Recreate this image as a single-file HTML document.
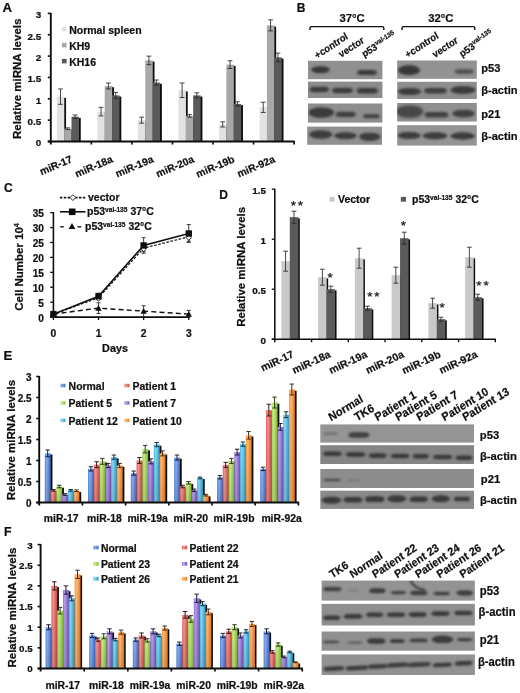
<!DOCTYPE html>
<html><head><meta charset="utf-8"><title>Figure</title>
<style>html,body{margin:0;padding:0;background:#fff;}svg{display:block;}text{font-family:"Liberation Sans",sans-serif;stroke:#111;stroke-width:0.22px;}</style></head><body>
<svg width="520" height="693" viewBox="0 0 520 693">
<defs>
<linearGradient id="g_blue" x1="0" y1="0" x2="1" y2="0"><stop offset="0" stop-color="#5a8ae2"/><stop offset="0.32" stop-color="#8bb0f2"/><stop offset="1" stop-color="#3a69c8"/></linearGradient>
<linearGradient id="g_red" x1="0" y1="0" x2="1" y2="0"><stop offset="0" stop-color="#e5625f"/><stop offset="0.32" stop-color="#f39792"/><stop offset="1" stop-color="#cc4441"/></linearGradient>
<linearGradient id="g_green" x1="0" y1="0" x2="1" y2="0"><stop offset="0" stop-color="#a3d852"/><stop offset="0.32" stop-color="#c8ee88"/><stop offset="1" stop-color="#84ba36"/></linearGradient>
<linearGradient id="g_purple" x1="0" y1="0" x2="1" y2="0"><stop offset="0" stop-color="#9676d6"/><stop offset="0.32" stop-color="#b9a2ec"/><stop offset="1" stop-color="#7252b8"/></linearGradient>
<linearGradient id="g_cyan" x1="0" y1="0" x2="1" y2="0"><stop offset="0" stop-color="#4abae7"/><stop offset="0.32" stop-color="#8adaf6"/><stop offset="1" stop-color="#2899ca"/></linearGradient>
<linearGradient id="g_orange" x1="0" y1="0" x2="1" y2="0"><stop offset="0" stop-color="#ff983e"/><stop offset="0.32" stop-color="#ffbc78"/><stop offset="1" stop-color="#ee7a1a"/></linearGradient>
<linearGradient id="vshade" x1="0" y1="0" x2="0" y2="1"><stop offset="0" stop-color="#000" stop-opacity="0"/><stop offset="1" stop-color="#000" stop-opacity="0.13"/></linearGradient>
<filter id="b1" x="-20%" y="-80%" width="140%" height="260%"><feGaussianBlur stdDeviation="1.0"/></filter>
<filter id="b2" x="-20%" y="-80%" width="140%" height="260%"><feGaussianBlur stdDeviation="1.4"/></filter>
<filter id="b0" x="-5%" y="-5%" width="110%" height="110%"><feGaussianBlur stdDeviation="0.45"/></filter>
<filter id="soft" x="0" y="0" width="520" height="693" filterUnits="userSpaceOnUse"><feGaussianBlur stdDeviation="0.38"/></filter>
</defs>
<rect x="0" y="0" width="520" height="693" fill="#ffffff"/>
<g filter="url(#soft)">
<rect x="0" y="0" width="520" height="693" fill="#ffffff"/>
<text x="2.6" y="11.7" font-size="13.2" text-anchor="start" font-weight="bold" fill="#111">A</text>
<text x="296.8" y="11.6" font-size="12" text-anchor="start" font-weight="bold" fill="#111">B</text>
<text x="4" y="192" font-size="12" text-anchor="start" font-weight="bold" fill="#111">C</text>
<text x="219.2" y="198.8" font-size="12" text-anchor="start" font-weight="bold" fill="#111">D</text>
<text x="3.4" y="359.9" font-size="13.2" text-anchor="start" font-weight="bold" fill="#111">E</text>
<text x="4" y="535.6" font-size="12.4" text-anchor="start" font-weight="bold" fill="#111">F</text>
<rect x="58.7" y="97.86" width="7.35" height="43.64" fill="#0a0a0a"/>
<rect x="66.05" y="129.89" width="7.35" height="11.61" fill="#0a0a0a"/>
<rect x="73.4" y="117.93" width="7.35" height="23.57" fill="#0a0a0a"/>
<rect x="99.25" y="112.81" width="7.35" height="28.69" fill="#0a0a0a"/>
<rect x="106.6" y="87.19" width="7.35" height="54.31" fill="#0a0a0a"/>
<rect x="113.95" y="96.58" width="7.35" height="44.92" fill="#0a0a0a"/>
<rect x="139.8" y="121.35" width="7.35" height="20.15" fill="#0a0a0a"/>
<rect x="147.15" y="61.57" width="7.35" height="79.93" fill="#0a0a0a"/>
<rect x="154.5" y="83.77" width="7.35" height="57.73" fill="#0a0a0a"/>
<rect x="180.35" y="91.46" width="7.35" height="50.04" fill="#0a0a0a"/>
<rect x="187.7" y="117.08" width="7.35" height="24.42" fill="#0a0a0a"/>
<rect x="195.05" y="96.58" width="7.35" height="44.92" fill="#0a0a0a"/>
<rect x="220.9" y="125.62" width="7.35" height="15.88" fill="#0a0a0a"/>
<rect x="228.25" y="65.84" width="7.35" height="75.66" fill="#0a0a0a"/>
<rect x="235.6" y="105.12" width="7.35" height="36.38" fill="#0a0a0a"/>
<rect x="261.45" y="108.54" width="7.35" height="32.96" fill="#0a0a0a"/>
<rect x="268.8" y="26.56" width="7.35" height="114.94" fill="#0a0a0a"/>
<rect x="276.15" y="58.58" width="7.35" height="82.92" fill="#0a0a0a"/>
<rect x="56.8" y="96.66" width="7.5" height="44.84" fill="#e2e2e2"/>
<rect x="64.15" y="128.69" width="7.5" height="12.81" fill="#a8a8a8"/>
<rect x="71.5" y="116.73" width="7.5" height="24.77" fill="#5a5a5a"/>
<rect x="97.35" y="111.61" width="7.5" height="29.89" fill="#e2e2e2"/>
<rect x="104.7" y="85.99" width="7.5" height="55.51" fill="#a8a8a8"/>
<rect x="112.05" y="95.38" width="7.5" height="46.12" fill="#5a5a5a"/>
<rect x="137.9" y="120.15" width="7.5" height="21.35" fill="#e2e2e2"/>
<rect x="145.25" y="60.37" width="7.5" height="81.13" fill="#a8a8a8"/>
<rect x="152.6" y="82.57" width="7.5" height="58.93" fill="#5a5a5a"/>
<rect x="178.45" y="90.26" width="7.5" height="51.24" fill="#e2e2e2"/>
<rect x="185.8" y="115.88" width="7.5" height="25.62" fill="#a8a8a8"/>
<rect x="193.15" y="95.38" width="7.5" height="46.12" fill="#5a5a5a"/>
<rect x="219" y="124.42" width="7.5" height="17.08" fill="#e2e2e2"/>
<rect x="226.35" y="64.64" width="7.5" height="76.86" fill="#a8a8a8"/>
<rect x="233.7" y="103.92" width="7.5" height="37.58" fill="#5a5a5a"/>
<rect x="259.55" y="107.34" width="7.5" height="34.16" fill="#e2e2e2"/>
<rect x="266.9" y="25.36" width="7.5" height="116.14" fill="#a8a8a8"/>
<rect x="274.25" y="57.38" width="7.5" height="84.12" fill="#5a5a5a"/>
<line x1="60.47" y1="88.98" x2="60.47" y2="104.35" stroke="#262626" stroke-width="0.85"/>
<line x1="58.07" y1="88.98" x2="62.87" y2="88.98" stroke="#262626" stroke-width="0.85"/>
<line x1="58.07" y1="104.35" x2="62.87" y2="104.35" stroke="#262626" stroke-width="0.85"/>
<line x1="67.82" y1="127.84" x2="67.82" y2="129.54" stroke="#262626" stroke-width="0.85"/>
<line x1="65.42" y1="127.84" x2="70.22" y2="127.84" stroke="#262626" stroke-width="0.85"/>
<line x1="65.42" y1="129.54" x2="70.22" y2="129.54" stroke="#262626" stroke-width="0.85"/>
<line x1="75.17" y1="115.03" x2="75.17" y2="118.44" stroke="#262626" stroke-width="0.85"/>
<line x1="72.77" y1="115.03" x2="77.58" y2="115.03" stroke="#262626" stroke-width="0.85"/>
<line x1="72.77" y1="118.44" x2="77.58" y2="118.44" stroke="#262626" stroke-width="0.85"/>
<line x1="101.02" y1="107.34" x2="101.02" y2="115.88" stroke="#262626" stroke-width="0.85"/>
<line x1="98.62" y1="107.34" x2="103.42" y2="107.34" stroke="#262626" stroke-width="0.85"/>
<line x1="98.62" y1="115.88" x2="103.42" y2="115.88" stroke="#262626" stroke-width="0.85"/>
<line x1="108.37" y1="83" x2="108.37" y2="88.98" stroke="#262626" stroke-width="0.85"/>
<line x1="105.97" y1="83" x2="110.77" y2="83" stroke="#262626" stroke-width="0.85"/>
<line x1="105.97" y1="88.98" x2="110.77" y2="88.98" stroke="#262626" stroke-width="0.85"/>
<line x1="115.72" y1="92.39" x2="115.72" y2="98.37" stroke="#262626" stroke-width="0.85"/>
<line x1="113.32" y1="92.39" x2="118.12" y2="92.39" stroke="#262626" stroke-width="0.85"/>
<line x1="113.32" y1="98.37" x2="118.12" y2="98.37" stroke="#262626" stroke-width="0.85"/>
<line x1="141.57" y1="117.16" x2="141.57" y2="123.14" stroke="#262626" stroke-width="0.85"/>
<line x1="139.17" y1="117.16" x2="143.97" y2="117.16" stroke="#262626" stroke-width="0.85"/>
<line x1="139.17" y1="123.14" x2="143.97" y2="123.14" stroke="#262626" stroke-width="0.85"/>
<line x1="148.92" y1="56.1" x2="148.92" y2="64.64" stroke="#262626" stroke-width="0.85"/>
<line x1="146.52" y1="56.1" x2="151.32" y2="56.1" stroke="#262626" stroke-width="0.85"/>
<line x1="146.52" y1="64.64" x2="151.32" y2="64.64" stroke="#262626" stroke-width="0.85"/>
<line x1="156.27" y1="80.01" x2="156.27" y2="85.14" stroke="#262626" stroke-width="0.85"/>
<line x1="153.87" y1="80.01" x2="158.67" y2="80.01" stroke="#262626" stroke-width="0.85"/>
<line x1="153.87" y1="85.14" x2="158.67" y2="85.14" stroke="#262626" stroke-width="0.85"/>
<line x1="182.12" y1="83" x2="182.12" y2="97.52" stroke="#262626" stroke-width="0.85"/>
<line x1="179.72" y1="83" x2="184.53" y2="83" stroke="#262626" stroke-width="0.85"/>
<line x1="179.72" y1="97.52" x2="184.53" y2="97.52" stroke="#262626" stroke-width="0.85"/>
<line x1="189.47" y1="114.6" x2="189.47" y2="117.16" stroke="#262626" stroke-width="0.85"/>
<line x1="187.07" y1="114.6" x2="191.88" y2="114.6" stroke="#262626" stroke-width="0.85"/>
<line x1="187.07" y1="117.16" x2="191.88" y2="117.16" stroke="#262626" stroke-width="0.85"/>
<line x1="196.82" y1="92.82" x2="196.82" y2="97.95" stroke="#262626" stroke-width="0.85"/>
<line x1="194.42" y1="92.82" x2="199.22" y2="92.82" stroke="#262626" stroke-width="0.85"/>
<line x1="194.42" y1="97.95" x2="199.22" y2="97.95" stroke="#262626" stroke-width="0.85"/>
<line x1="222.68" y1="121.86" x2="222.68" y2="126.98" stroke="#262626" stroke-width="0.85"/>
<line x1="220.28" y1="121.86" x2="225.08" y2="121.86" stroke="#262626" stroke-width="0.85"/>
<line x1="220.28" y1="126.98" x2="225.08" y2="126.98" stroke="#262626" stroke-width="0.85"/>
<line x1="230.03" y1="60.8" x2="230.03" y2="68.48" stroke="#262626" stroke-width="0.85"/>
<line x1="227.62" y1="60.8" x2="232.43" y2="60.8" stroke="#262626" stroke-width="0.85"/>
<line x1="227.62" y1="68.48" x2="232.43" y2="68.48" stroke="#262626" stroke-width="0.85"/>
<line x1="237.38" y1="101.79" x2="237.38" y2="106.06" stroke="#262626" stroke-width="0.85"/>
<line x1="234.97" y1="101.79" x2="239.78" y2="101.79" stroke="#262626" stroke-width="0.85"/>
<line x1="234.97" y1="106.06" x2="239.78" y2="106.06" stroke="#262626" stroke-width="0.85"/>
<line x1="263.23" y1="102.22" x2="263.23" y2="112.46" stroke="#262626" stroke-width="0.85"/>
<line x1="260.83" y1="102.22" x2="265.62" y2="102.22" stroke="#262626" stroke-width="0.85"/>
<line x1="260.83" y1="112.46" x2="265.62" y2="112.46" stroke="#262626" stroke-width="0.85"/>
<line x1="270.58" y1="19.8" x2="270.58" y2="30.91" stroke="#262626" stroke-width="0.85"/>
<line x1="268.18" y1="19.8" x2="272.98" y2="19.8" stroke="#262626" stroke-width="0.85"/>
<line x1="268.18" y1="30.91" x2="272.98" y2="30.91" stroke="#262626" stroke-width="0.85"/>
<line x1="277.93" y1="53.11" x2="277.93" y2="61.65" stroke="#262626" stroke-width="0.85"/>
<line x1="275.53" y1="53.11" x2="280.32" y2="53.11" stroke="#262626" stroke-width="0.85"/>
<line x1="275.53" y1="61.65" x2="280.32" y2="61.65" stroke="#262626" stroke-width="0.85"/>
<line x1="50.8" y1="12.9" x2="50.8" y2="144.5" stroke="#111" stroke-width="1.9"/>
<line x1="47.8" y1="141.5" x2="294.7" y2="141.5" stroke="#111" stroke-width="1.9"/>
<line x1="91.35" y1="141.2" x2="91.35" y2="144.5" stroke="#111" stroke-width="1.71"/>
<line x1="131.9" y1="141.2" x2="131.9" y2="144.5" stroke="#111" stroke-width="1.71"/>
<line x1="172.45" y1="141.2" x2="172.45" y2="144.5" stroke="#111" stroke-width="1.71"/>
<line x1="213" y1="141.2" x2="213" y2="144.5" stroke="#111" stroke-width="1.71"/>
<line x1="253.55" y1="141.2" x2="253.55" y2="144.5" stroke="#111" stroke-width="1.71"/>
<line x1="294.1" y1="141.2" x2="294.1" y2="144.5" stroke="#111" stroke-width="1.71"/>
<line x1="47.8" y1="141.5" x2="50.8" y2="141.5" stroke="#111" stroke-width="1.61"/>
<text x="41.2" y="146.46" font-size="9.9" text-anchor="end" font-weight="bold" fill="#111">0</text>
<line x1="47.8" y1="120.15" x2="50.8" y2="120.15" stroke="#111" stroke-width="1.61"/>
<text x="41.2" y="125.11" font-size="9.9" text-anchor="end" font-weight="bold" fill="#111">0.5</text>
<line x1="47.8" y1="98.8" x2="50.8" y2="98.8" stroke="#111" stroke-width="1.61"/>
<text x="41.2" y="103.76" font-size="9.9" text-anchor="end" font-weight="bold" fill="#111">1</text>
<line x1="47.8" y1="77.45" x2="50.8" y2="77.45" stroke="#111" stroke-width="1.61"/>
<text x="41.2" y="82.41" font-size="9.9" text-anchor="end" font-weight="bold" fill="#111">1.5</text>
<line x1="47.8" y1="56.1" x2="50.8" y2="56.1" stroke="#111" stroke-width="1.61"/>
<text x="41.2" y="61.06" font-size="9.9" text-anchor="end" font-weight="bold" fill="#111">2</text>
<line x1="47.8" y1="34.75" x2="50.8" y2="34.75" stroke="#111" stroke-width="1.61"/>
<text x="41.2" y="39.71" font-size="9.9" text-anchor="end" font-weight="bold" fill="#111">2.5</text>
<line x1="47.8" y1="13.4" x2="50.8" y2="13.4" stroke="#111" stroke-width="1.61"/>
<text x="41.2" y="18.36" font-size="9.9" text-anchor="end" font-weight="bold" fill="#111">3</text>
<text x="73.07" y="161.8" font-size="10.3" text-anchor="end" font-weight="bold" fill="#111" transform="rotate(-23 73.07 161.8)">miR-17</text>
<text x="113.62" y="161.8" font-size="10.3" text-anchor="end" font-weight="bold" fill="#111" transform="rotate(-23 113.62 161.8)">miR-18a</text>
<text x="154.18" y="161.8" font-size="10.3" text-anchor="end" font-weight="bold" fill="#111" transform="rotate(-23 154.18 161.8)">miR-19a</text>
<text x="194.72" y="161.8" font-size="10.3" text-anchor="end" font-weight="bold" fill="#111" transform="rotate(-23 194.72 161.8)">miR-20a</text>
<text x="235.27" y="161.8" font-size="10.3" text-anchor="end" font-weight="bold" fill="#111" transform="rotate(-23 235.27 161.8)">miR-19b</text>
<text x="275.82" y="161.8" font-size="10.3" text-anchor="end" font-weight="bold" fill="#111" transform="rotate(-23 275.82 161.8)">miR-92a</text>
<text x="21.4" y="78.8" font-size="11.5" text-anchor="middle" font-weight="bold" fill="#111" transform="rotate(-90 21.4 78.8)">Relative miRNA levels</text>
<rect x="61.9" y="26.8" width="4.7" height="4.6" fill="#e2e2e2"/>
<text x="69.2" y="33.6" font-size="10.5" text-anchor="start" font-weight="bold" fill="#111">Normal spleen</text>
<rect x="61.9" y="42.8" width="4.7" height="4.6" fill="#a8a8a8"/>
<text x="69.2" y="49.6" font-size="10.5" text-anchor="start" font-weight="bold" fill="#111">KH9</text>
<rect x="61.9" y="58.8" width="4.7" height="4.6" fill="#5a5a5a"/>
<text x="69.2" y="65.6" font-size="10.5" text-anchor="start" font-weight="bold" fill="#111">KH16</text>
<rect x="283" y="262.4" width="8.4" height="76.8" fill="#0a0a0a"/>
<rect x="291.4" y="218.4" width="8.4" height="120.8" fill="#0a0a0a"/>
<rect x="319.75" y="278.4" width="8.4" height="60.8" fill="#0a0a0a"/>
<rect x="328.15" y="290.4" width="8.4" height="48.8" fill="#0a0a0a"/>
<rect x="356.5" y="259.4" width="8.4" height="79.8" fill="#0a0a0a"/>
<rect x="364.9" y="309.4" width="8.4" height="29.8" fill="#0a0a0a"/>
<rect x="393.25" y="276.4" width="8.4" height="62.8" fill="#0a0a0a"/>
<rect x="401.65" y="239.4" width="8.4" height="99.8" fill="#0a0a0a"/>
<rect x="430" y="304.4" width="8.4" height="34.8" fill="#0a0a0a"/>
<rect x="438.4" y="320.4" width="8.4" height="18.8" fill="#0a0a0a"/>
<rect x="466.75" y="258.4" width="8.4" height="80.8" fill="#0a0a0a"/>
<rect x="475.15" y="298.4" width="8.4" height="40.8" fill="#0a0a0a"/>
<rect x="281.4" y="261.2" width="8.55" height="78" fill="#c9c9c9"/>
<rect x="289.8" y="217.2" width="8.55" height="122" fill="#5a5a5a"/>
<rect x="318.15" y="277.2" width="8.55" height="62" fill="#c9c9c9"/>
<rect x="326.55" y="289.2" width="8.55" height="50" fill="#5a5a5a"/>
<rect x="354.9" y="258.2" width="8.55" height="81" fill="#c9c9c9"/>
<rect x="363.3" y="308.2" width="8.55" height="31" fill="#5a5a5a"/>
<rect x="391.65" y="275.2" width="8.55" height="64" fill="#c9c9c9"/>
<rect x="400.05" y="238.2" width="8.55" height="101" fill="#5a5a5a"/>
<rect x="428.4" y="303.2" width="8.55" height="36" fill="#c9c9c9"/>
<rect x="436.8" y="319.2" width="8.55" height="20" fill="#5a5a5a"/>
<rect x="465.15" y="257.2" width="8.55" height="82" fill="#c9c9c9"/>
<rect x="473.55" y="297.2" width="8.55" height="42" fill="#5a5a5a"/>
<line x1="285.6" y1="251.2" x2="285.6" y2="271.2" stroke="#262626" stroke-width="0.85"/>
<line x1="283.2" y1="251.2" x2="288" y2="251.2" stroke="#262626" stroke-width="0.85"/>
<line x1="283.2" y1="271.2" x2="288" y2="271.2" stroke="#262626" stroke-width="0.85"/>
<line x1="294" y1="211.2" x2="294" y2="223.2" stroke="#262626" stroke-width="0.85"/>
<line x1="291.6" y1="211.2" x2="296.4" y2="211.2" stroke="#262626" stroke-width="0.85"/>
<line x1="291.6" y1="223.2" x2="296.4" y2="223.2" stroke="#262626" stroke-width="0.85"/>
<line x1="322.35" y1="269.2" x2="322.35" y2="285.2" stroke="#262626" stroke-width="0.85"/>
<line x1="319.95" y1="269.2" x2="324.75" y2="269.2" stroke="#262626" stroke-width="0.85"/>
<line x1="319.95" y1="285.2" x2="324.75" y2="285.2" stroke="#262626" stroke-width="0.85"/>
<line x1="330.75" y1="286.2" x2="330.75" y2="292.2" stroke="#262626" stroke-width="0.85"/>
<line x1="328.35" y1="286.2" x2="333.15" y2="286.2" stroke="#262626" stroke-width="0.85"/>
<line x1="328.35" y1="292.2" x2="333.15" y2="292.2" stroke="#262626" stroke-width="0.85"/>
<line x1="359.1" y1="248.2" x2="359.1" y2="268.2" stroke="#262626" stroke-width="0.85"/>
<line x1="356.7" y1="248.2" x2="361.5" y2="248.2" stroke="#262626" stroke-width="0.85"/>
<line x1="356.7" y1="268.2" x2="361.5" y2="268.2" stroke="#262626" stroke-width="0.85"/>
<line x1="367.5" y1="306.2" x2="367.5" y2="310.2" stroke="#262626" stroke-width="0.85"/>
<line x1="365.1" y1="306.2" x2="369.9" y2="306.2" stroke="#262626" stroke-width="0.85"/>
<line x1="365.1" y1="310.2" x2="369.9" y2="310.2" stroke="#262626" stroke-width="0.85"/>
<line x1="395.85" y1="267.2" x2="395.85" y2="283.2" stroke="#262626" stroke-width="0.85"/>
<line x1="393.45" y1="267.2" x2="398.25" y2="267.2" stroke="#262626" stroke-width="0.85"/>
<line x1="393.45" y1="283.2" x2="398.25" y2="283.2" stroke="#262626" stroke-width="0.85"/>
<line x1="404.25" y1="232.2" x2="404.25" y2="244.2" stroke="#262626" stroke-width="0.85"/>
<line x1="401.85" y1="232.2" x2="406.65" y2="232.2" stroke="#262626" stroke-width="0.85"/>
<line x1="401.85" y1="244.2" x2="406.65" y2="244.2" stroke="#262626" stroke-width="0.85"/>
<line x1="432.6" y1="298.2" x2="432.6" y2="308.2" stroke="#262626" stroke-width="0.85"/>
<line x1="430.2" y1="298.2" x2="435" y2="298.2" stroke="#262626" stroke-width="0.85"/>
<line x1="430.2" y1="308.2" x2="435" y2="308.2" stroke="#262626" stroke-width="0.85"/>
<line x1="441" y1="317.2" x2="441" y2="321.2" stroke="#262626" stroke-width="0.85"/>
<line x1="438.6" y1="317.2" x2="443.4" y2="317.2" stroke="#262626" stroke-width="0.85"/>
<line x1="438.6" y1="321.2" x2="443.4" y2="321.2" stroke="#262626" stroke-width="0.85"/>
<line x1="469.35" y1="247.2" x2="469.35" y2="267.2" stroke="#262626" stroke-width="0.85"/>
<line x1="466.95" y1="247.2" x2="471.75" y2="247.2" stroke="#262626" stroke-width="0.85"/>
<line x1="466.95" y1="267.2" x2="471.75" y2="267.2" stroke="#262626" stroke-width="0.85"/>
<line x1="477.75" y1="294.2" x2="477.75" y2="300.2" stroke="#262626" stroke-width="0.85"/>
<line x1="475.35" y1="294.2" x2="480.15" y2="294.2" stroke="#262626" stroke-width="0.85"/>
<line x1="475.35" y1="300.2" x2="480.15" y2="300.2" stroke="#262626" stroke-width="0.85"/>
<line x1="274.8" y1="188.7" x2="274.8" y2="342.2" stroke="#111" stroke-width="1.55"/>
<line x1="271.8" y1="339.2" x2="495.9" y2="339.2" stroke="#111" stroke-width="1.55"/>
<line x1="311.55" y1="338.9" x2="311.55" y2="342.2" stroke="#111" stroke-width="1.4"/>
<line x1="348.3" y1="338.9" x2="348.3" y2="342.2" stroke="#111" stroke-width="1.4"/>
<line x1="385.05" y1="338.9" x2="385.05" y2="342.2" stroke="#111" stroke-width="1.4"/>
<line x1="421.8" y1="338.9" x2="421.8" y2="342.2" stroke="#111" stroke-width="1.4"/>
<line x1="458.55" y1="338.9" x2="458.55" y2="342.2" stroke="#111" stroke-width="1.4"/>
<line x1="495.3" y1="338.9" x2="495.3" y2="342.2" stroke="#111" stroke-width="1.4"/>
<line x1="271.8" y1="339.2" x2="274.8" y2="339.2" stroke="#111" stroke-width="1.32"/>
<text x="266" y="344.26" font-size="9.9" text-anchor="end" font-weight="bold" fill="#111">0</text>
<line x1="271.8" y1="289.2" x2="274.8" y2="289.2" stroke="#111" stroke-width="1.32"/>
<text x="266" y="294.26" font-size="9.9" text-anchor="end" font-weight="bold" fill="#111">0.5</text>
<line x1="271.8" y1="239.2" x2="274.8" y2="239.2" stroke="#111" stroke-width="1.32"/>
<text x="266" y="244.26" font-size="9.9" text-anchor="end" font-weight="bold" fill="#111">1</text>
<line x1="271.8" y1="189.2" x2="274.8" y2="189.2" stroke="#111" stroke-width="1.32"/>
<text x="266" y="194.26" font-size="9.9" text-anchor="end" font-weight="bold" fill="#111">1.5</text>
<text x="294.48" y="356.8" font-size="10.5" text-anchor="end" font-weight="bold" fill="#111" transform="rotate(-25 294.48 356.8)">miR-17</text>
<text x="331.23" y="356.8" font-size="10.5" text-anchor="end" font-weight="bold" fill="#111" transform="rotate(-25 331.23 356.8)">miR-18a</text>
<text x="367.98" y="356.8" font-size="10.5" text-anchor="end" font-weight="bold" fill="#111" transform="rotate(-25 367.98 356.8)">miR-19a</text>
<text x="404.73" y="356.8" font-size="10.5" text-anchor="end" font-weight="bold" fill="#111" transform="rotate(-25 404.73 356.8)">miR-20a</text>
<text x="441.48" y="356.8" font-size="10.5" text-anchor="end" font-weight="bold" fill="#111" transform="rotate(-25 441.48 356.8)">miR-19b</text>
<text x="478.23" y="356.8" font-size="10.5" text-anchor="end" font-weight="bold" fill="#111" transform="rotate(-25 478.23 356.8)">miR-92a</text>
<text x="244.8" y="266.8" font-size="11.45" text-anchor="middle" font-weight="bold" fill="#111" transform="rotate(-90 244.8 266.8)">Relative miRNA levels</text>
<rect x="329.6" y="196.9" width="5" height="4.8" fill="#c9c9c9"/>
<text x="338" y="203" font-size="10.5" text-anchor="start" font-weight="bold" fill="#111">Vector</text>
<rect x="400.8" y="196.9" width="5.2" height="4.8" fill="#5a5a5a"/>
<text x="412.0" y="203.2" font-size="10.5" font-weight="bold" fill="#111">p53<tspan font-size="6.6" dy="-3.6">val-135</tspan><tspan dy="3.6" font-size="10.5"> 32°C</tspan></text>
<text x="297.7" y="210.1" font-size="13.5" text-anchor="middle" font-weight="normal" fill="#111" letter-spacing="1.8" stroke-width="0.5">**</text>
<text x="331" y="281.6" font-size="13.5" text-anchor="middle" font-weight="normal" fill="#111" letter-spacing="1.8" stroke-width="0.5">*</text>
<text x="374.2" y="300.9" font-size="13.5" text-anchor="middle" font-weight="normal" fill="#111" letter-spacing="1.8" stroke-width="0.5">**</text>
<text x="404.2" y="229.6" font-size="13.5" text-anchor="middle" font-weight="normal" fill="#111" letter-spacing="1.8" stroke-width="0.5">*</text>
<text x="443" y="311.8" font-size="13.5" text-anchor="middle" font-weight="normal" fill="#111" letter-spacing="1.8" stroke-width="0.5">*</text>
<text x="483.4" y="290.3" font-size="13.5" text-anchor="middle" font-weight="normal" fill="#111" letter-spacing="1.8" stroke-width="0.5">**</text>
<line x1="53.4" y1="212.13" x2="53.4" y2="317.9" stroke="#111" stroke-width="1.6"/>
<line x1="50.4" y1="317.1" x2="189.56" y2="317.1" stroke="#111" stroke-width="1.6"/>
<line x1="50.2" y1="317.1" x2="53.4" y2="317.1" stroke="#111" stroke-width="1.3"/>
<text x="43.9" y="321.8" font-size="10.1" text-anchor="end" font-weight="bold" fill="#111">0</text>
<line x1="50.2" y1="302.18" x2="53.4" y2="302.18" stroke="#111" stroke-width="1.3"/>
<text x="43.9" y="306.88" font-size="10.1" text-anchor="end" font-weight="bold" fill="#111">5</text>
<line x1="50.2" y1="287.25" x2="53.4" y2="287.25" stroke="#111" stroke-width="1.3"/>
<text x="43.9" y="291.95" font-size="10.1" text-anchor="end" font-weight="bold" fill="#111">10</text>
<line x1="50.2" y1="272.33" x2="53.4" y2="272.33" stroke="#111" stroke-width="1.3"/>
<text x="43.9" y="277.03" font-size="10.1" text-anchor="end" font-weight="bold" fill="#111">15</text>
<line x1="50.2" y1="257.4" x2="53.4" y2="257.4" stroke="#111" stroke-width="1.3"/>
<text x="43.9" y="262.1" font-size="10.1" text-anchor="end" font-weight="bold" fill="#111">20</text>
<line x1="50.2" y1="242.48" x2="53.4" y2="242.48" stroke="#111" stroke-width="1.3"/>
<text x="43.9" y="247.18" font-size="10.1" text-anchor="end" font-weight="bold" fill="#111">25</text>
<line x1="50.2" y1="227.55" x2="53.4" y2="227.55" stroke="#111" stroke-width="1.3"/>
<text x="43.9" y="232.25" font-size="10.1" text-anchor="end" font-weight="bold" fill="#111">30</text>
<line x1="50.2" y1="212.63" x2="53.4" y2="212.63" stroke="#111" stroke-width="1.3"/>
<text x="43.9" y="217.33" font-size="10.1" text-anchor="end" font-weight="bold" fill="#111">35</text>
<line x1="53.4" y1="317.1" x2="53.4" y2="320.1" stroke="#111" stroke-width="1.3"/>
<text x="53.4" y="337" font-size="10.3" text-anchor="middle" font-weight="bold" fill="#111">0</text>
<line x1="98.52" y1="317.1" x2="98.52" y2="320.1" stroke="#111" stroke-width="1.3"/>
<text x="98.52" y="337" font-size="10.3" text-anchor="middle" font-weight="bold" fill="#111">1</text>
<line x1="143.64" y1="317.1" x2="143.64" y2="320.1" stroke="#111" stroke-width="1.3"/>
<text x="143.64" y="337" font-size="10.3" text-anchor="middle" font-weight="bold" fill="#111">2</text>
<line x1="188.76" y1="317.1" x2="188.76" y2="320.1" stroke="#111" stroke-width="1.3"/>
<text x="188.76" y="337" font-size="10.3" text-anchor="middle" font-weight="bold" fill="#111">3</text>
<text x="115" y="352.3" font-size="10.8" text-anchor="middle" font-weight="bold" fill="#111">Days</text>
<text x="23.2" y="267" font-size="11.5" font-weight="bold" fill="#111" text-anchor="middle" transform="rotate(-90 23.2 267)">Cell Number 10<tspan font-size="6.8" dy="-4">4</tspan></text>
<line x1="53.4" y1="312.62" x2="53.4" y2="315.61" stroke="#333" stroke-width="0.95"/>
<line x1="51.4" y1="312.62" x2="55.4" y2="312.62" stroke="#333" stroke-width="0.95"/>
<line x1="51.4" y1="315.61" x2="55.4" y2="315.61" stroke="#333" stroke-width="0.95"/>
<line x1="53.4" y1="312.62" x2="53.4" y2="315.61" stroke="#333" stroke-width="0.95"/>
<line x1="51.4" y1="312.62" x2="55.4" y2="312.62" stroke="#333" stroke-width="0.95"/>
<line x1="51.4" y1="315.61" x2="55.4" y2="315.61" stroke="#333" stroke-width="0.95"/>
<line x1="53.4" y1="312.62" x2="53.4" y2="315.61" stroke="#333" stroke-width="0.95"/>
<line x1="51.4" y1="312.62" x2="55.4" y2="312.62" stroke="#333" stroke-width="0.95"/>
<line x1="51.4" y1="315.61" x2="55.4" y2="315.61" stroke="#333" stroke-width="0.95"/>
<line x1="98.52" y1="293.22" x2="98.52" y2="299.19" stroke="#333" stroke-width="0.95"/>
<line x1="96.52" y1="293.22" x2="100.52" y2="293.22" stroke="#333" stroke-width="0.95"/>
<line x1="96.52" y1="299.19" x2="100.52" y2="299.19" stroke="#333" stroke-width="0.95"/>
<line x1="98.52" y1="302.77" x2="98.52" y2="313.52" stroke="#333" stroke-width="0.95"/>
<line x1="96.52" y1="302.77" x2="100.52" y2="302.77" stroke="#333" stroke-width="0.95"/>
<line x1="96.52" y1="313.52" x2="100.52" y2="313.52" stroke="#333" stroke-width="0.95"/>
<line x1="98.52" y1="295.01" x2="98.52" y2="299.79" stroke="#333" stroke-width="0.95"/>
<line x1="96.52" y1="295.01" x2="100.52" y2="295.01" stroke="#333" stroke-width="0.95"/>
<line x1="96.52" y1="299.79" x2="100.52" y2="299.79" stroke="#333" stroke-width="0.95"/>
<line x1="143.64" y1="237.7" x2="143.64" y2="253.22" stroke="#333" stroke-width="0.95"/>
<line x1="141.64" y1="237.7" x2="145.64" y2="237.7" stroke="#333" stroke-width="0.95"/>
<line x1="141.64" y1="253.22" x2="145.64" y2="253.22" stroke="#333" stroke-width="0.95"/>
<line x1="143.64" y1="305.76" x2="143.64" y2="316.5" stroke="#333" stroke-width="0.95"/>
<line x1="141.64" y1="305.76" x2="145.64" y2="305.76" stroke="#333" stroke-width="0.95"/>
<line x1="141.64" y1="316.5" x2="145.64" y2="316.5" stroke="#333" stroke-width="0.95"/>
<line x1="143.64" y1="243.97" x2="143.64" y2="251.73" stroke="#333" stroke-width="0.95"/>
<line x1="141.64" y1="243.97" x2="145.64" y2="243.97" stroke="#333" stroke-width="0.95"/>
<line x1="141.64" y1="251.73" x2="145.64" y2="251.73" stroke="#333" stroke-width="0.95"/>
<line x1="188.76" y1="224.57" x2="188.76" y2="242.48" stroke="#333" stroke-width="0.95"/>
<line x1="186.76" y1="224.57" x2="190.76" y2="224.57" stroke="#333" stroke-width="0.95"/>
<line x1="186.76" y1="242.48" x2="190.76" y2="242.48" stroke="#333" stroke-width="0.95"/>
<line x1="188.76" y1="310.53" x2="188.76" y2="317.1" stroke="#333" stroke-width="0.95"/>
<line x1="186.76" y1="310.53" x2="190.76" y2="310.53" stroke="#333" stroke-width="0.95"/>
<line x1="186.76" y1="317.1" x2="190.76" y2="317.1" stroke="#333" stroke-width="0.95"/>
<line x1="188.76" y1="231.73" x2="188.76" y2="241.28" stroke="#333" stroke-width="0.95"/>
<line x1="186.76" y1="231.73" x2="190.76" y2="231.73" stroke="#333" stroke-width="0.95"/>
<line x1="186.76" y1="241.28" x2="190.76" y2="241.28" stroke="#333" stroke-width="0.95"/>
<polyline fill="none" stroke="#111" stroke-width="1.4" stroke-dasharray="5 3.2" points="53.4,314.12 98.52,308.15 143.64,311.13 188.76,314.12"/>
<polyline fill="none" stroke="#111" stroke-width="1.2" stroke-dasharray="2.6 1.6" points="53.4,314.42 98.52,297.7 143.64,248.15 188.76,236.81"/>
<polyline fill="none" stroke="#111" stroke-width="1.6" points="53.4,314.12 98.52,296.21 143.64,245.46 188.76,233.52"/>
<path d="M50.8 315.31 L53.4 312.71 L56 315.31 L53.4 317.92Z" fill="#fff" stroke="#111" stroke-width="0.9"/>
<path d="M95.92 298.6 L98.52 296 L101.12 298.6 L98.52 301.2Z" fill="#fff" stroke="#111" stroke-width="0.9"/>
<path d="M141.04 249.05 L143.64 246.45 L146.24 249.05 L143.64 251.65Z" fill="#fff" stroke="#111" stroke-width="0.9"/>
<path d="M186.16 237.71 L188.76 235.11 L191.36 237.71 L188.76 240.31Z" fill="#fff" stroke="#111" stroke-width="0.9"/>
<path d="M53.4 310.92 L56.6 316.68 L50.2 316.68Z" fill="#111"/>
<path d="M98.52 304.95 L101.72 310.71 L95.32 310.71Z" fill="#111"/>
<path d="M143.64 307.93 L146.84 313.69 L140.44 313.69Z" fill="#111"/>
<path d="M188.76 310.92 L191.96 316.68 L185.56 316.68Z" fill="#111"/>
<rect x="50.2" y="310.92" width="6.4" height="6.4" fill="#111"/>
<rect x="95.32" y="293.01" width="6.4" height="6.4" fill="#111"/>
<rect x="140.44" y="242.26" width="6.4" height="6.4" fill="#111"/>
<rect x="185.56" y="230.32" width="6.4" height="6.4" fill="#111"/>
<line x1="60" y1="197.6" x2="85.8" y2="197.6" stroke="#111" stroke-width="1.6" stroke-dasharray="2.4 1.4"/>
<path d="M70 197.6 L72.9 194.7 L75.8 197.6 L72.9 200.5Z" fill="#fff" stroke="#111" stroke-width="0.9"/>
<text x="88" y="200.8" font-size="10.5" text-anchor="start" font-weight="bold" fill="#111">vector</text>
<line x1="60" y1="211.8" x2="85.5" y2="211.8" stroke="#111" stroke-width="1.6"/>
<rect x="68.9" y="208.5" width="6.6" height="6.6" fill="#111"/>
<text x="87" y="215.4" font-size="10.5" font-weight="bold" fill="#111">p53<tspan font-size="6.6" dy="-3.6">val-135</tspan><tspan dy="3.6" font-size="10.5"> 37°C</tspan></text>
<line x1="60.2" y1="226.8" x2="63.8" y2="226.8" stroke="#111" stroke-width="1.4"/>
<line x1="77.5" y1="226.8" x2="81.2" y2="226.8" stroke="#111" stroke-width="1.4"/>
<path d="M72 222.9 L75.4 229.02 L68.6 229.02Z" fill="#111"/>
<text x="85" y="230.4" font-size="10.5" font-weight="bold" fill="#111">p53<tspan font-size="6.6" dy="-3.6">val-135</tspan><tspan dy="3.6" font-size="10.5"> 32°C</tspan></text>
<rect x="46.7" y="454.56" width="5.75" height="47.94" fill="#0a0a0a"/>
<rect x="52.45" y="491.52" width="5.75" height="10.98" fill="#0a0a0a"/>
<rect x="58.2" y="487.74" width="5.75" height="14.76" fill="#0a0a0a"/>
<rect x="63.95" y="495.72" width="5.75" height="6.78" fill="#0a0a0a"/>
<rect x="69.7" y="491.52" width="5.75" height="10.98" fill="#0a0a0a"/>
<rect x="75.45" y="491.94" width="5.75" height="10.56" fill="#0a0a0a"/>
<rect x="89.9" y="470.1" width="5.75" height="32.4" fill="#0a0a0a"/>
<rect x="95.65" y="465.9" width="5.75" height="36.6" fill="#0a0a0a"/>
<rect x="101.4" y="462.54" width="5.75" height="39.96" fill="#0a0a0a"/>
<rect x="107.15" y="466.74" width="5.75" height="35.76" fill="#0a0a0a"/>
<rect x="112.9" y="458.34" width="5.75" height="44.16" fill="#0a0a0a"/>
<rect x="118.65" y="466.74" width="5.75" height="35.76" fill="#0a0a0a"/>
<rect x="132.7" y="474.3" width="5.75" height="28.2" fill="#0a0a0a"/>
<rect x="138.45" y="461.7" width="5.75" height="40.8" fill="#0a0a0a"/>
<rect x="144.2" y="450.36" width="5.75" height="52.14" fill="#0a0a0a"/>
<rect x="149.95" y="462.54" width="5.75" height="39.96" fill="#0a0a0a"/>
<rect x="155.7" y="445.74" width="5.75" height="56.76" fill="#0a0a0a"/>
<rect x="161.45" y="454.56" width="5.75" height="47.94" fill="#0a0a0a"/>
<rect x="176" y="458.76" width="5.75" height="43.74" fill="#0a0a0a"/>
<rect x="181.75" y="487.74" width="5.75" height="14.76" fill="#0a0a0a"/>
<rect x="187.5" y="483.96" width="5.75" height="18.54" fill="#0a0a0a"/>
<rect x="193.25" y="491.52" width="5.75" height="10.98" fill="#0a0a0a"/>
<rect x="199" y="479.13" width="5.75" height="23.37" fill="#0a0a0a"/>
<rect x="204.75" y="496.35" width="5.75" height="6.15" fill="#0a0a0a"/>
<rect x="218.9" y="478.5" width="5.75" height="24" fill="#0a0a0a"/>
<rect x="224.65" y="466.11" width="5.75" height="36.39" fill="#0a0a0a"/>
<rect x="230.4" y="462.12" width="5.75" height="40.38" fill="#0a0a0a"/>
<rect x="236.15" y="453.3" width="5.75" height="49.2" fill="#0a0a0a"/>
<rect x="241.9" y="445.32" width="5.75" height="57.18" fill="#0a0a0a"/>
<rect x="247.65" y="436.5" width="5.75" height="66" fill="#0a0a0a"/>
<rect x="262.1" y="470.1" width="5.75" height="32.4" fill="#0a0a0a"/>
<rect x="267.85" y="411.3" width="5.75" height="91.2" fill="#0a0a0a"/>
<rect x="273.6" y="403.74" width="5.75" height="98.76" fill="#0a0a0a"/>
<rect x="279.35" y="428.1" width="5.75" height="74.4" fill="#0a0a0a"/>
<rect x="285.1" y="415.92" width="5.75" height="86.58" fill="#0a0a0a"/>
<rect x="290.85" y="390.72" width="5.75" height="111.78" fill="#0a0a0a"/>
<rect x="44.8" y="453.36" width="5.9" height="49.14" fill="url(#g_blue)"/>
<rect x="44.8" y="453.36" width="5.9" height="49.14" fill="url(#vshade)"/>
<rect x="50.55" y="490.32" width="5.9" height="12.18" fill="url(#g_red)"/>
<rect x="50.55" y="490.32" width="5.9" height="12.18" fill="url(#vshade)"/>
<rect x="56.3" y="486.54" width="5.9" height="15.96" fill="url(#g_green)"/>
<rect x="56.3" y="486.54" width="5.9" height="15.96" fill="url(#vshade)"/>
<rect x="62.05" y="494.52" width="5.9" height="7.98" fill="url(#g_purple)"/>
<rect x="62.05" y="494.52" width="5.9" height="7.98" fill="url(#vshade)"/>
<rect x="67.8" y="490.32" width="5.9" height="12.18" fill="url(#g_cyan)"/>
<rect x="67.8" y="490.32" width="5.9" height="12.18" fill="url(#vshade)"/>
<rect x="73.55" y="490.74" width="5.9" height="11.76" fill="url(#g_orange)"/>
<rect x="73.55" y="490.74" width="5.9" height="11.76" fill="url(#vshade)"/>
<rect x="88" y="468.9" width="5.9" height="33.6" fill="url(#g_blue)"/>
<rect x="88" y="468.9" width="5.9" height="33.6" fill="url(#vshade)"/>
<rect x="93.75" y="464.7" width="5.9" height="37.8" fill="url(#g_red)"/>
<rect x="93.75" y="464.7" width="5.9" height="37.8" fill="url(#vshade)"/>
<rect x="99.5" y="461.34" width="5.9" height="41.16" fill="url(#g_green)"/>
<rect x="99.5" y="461.34" width="5.9" height="41.16" fill="url(#vshade)"/>
<rect x="105.25" y="465.54" width="5.9" height="36.96" fill="url(#g_purple)"/>
<rect x="105.25" y="465.54" width="5.9" height="36.96" fill="url(#vshade)"/>
<rect x="111" y="457.14" width="5.9" height="45.36" fill="url(#g_cyan)"/>
<rect x="111" y="457.14" width="5.9" height="45.36" fill="url(#vshade)"/>
<rect x="116.75" y="465.54" width="5.9" height="36.96" fill="url(#g_orange)"/>
<rect x="116.75" y="465.54" width="5.9" height="36.96" fill="url(#vshade)"/>
<rect x="130.8" y="473.1" width="5.9" height="29.4" fill="url(#g_blue)"/>
<rect x="130.8" y="473.1" width="5.9" height="29.4" fill="url(#vshade)"/>
<rect x="136.55" y="460.5" width="5.9" height="42" fill="url(#g_red)"/>
<rect x="136.55" y="460.5" width="5.9" height="42" fill="url(#vshade)"/>
<rect x="142.3" y="449.16" width="5.9" height="53.34" fill="url(#g_green)"/>
<rect x="142.3" y="449.16" width="5.9" height="53.34" fill="url(#vshade)"/>
<rect x="148.05" y="461.34" width="5.9" height="41.16" fill="url(#g_purple)"/>
<rect x="148.05" y="461.34" width="5.9" height="41.16" fill="url(#vshade)"/>
<rect x="153.8" y="444.54" width="5.9" height="57.96" fill="url(#g_cyan)"/>
<rect x="153.8" y="444.54" width="5.9" height="57.96" fill="url(#vshade)"/>
<rect x="159.55" y="453.36" width="5.9" height="49.14" fill="url(#g_orange)"/>
<rect x="159.55" y="453.36" width="5.9" height="49.14" fill="url(#vshade)"/>
<rect x="174.1" y="457.56" width="5.9" height="44.94" fill="url(#g_blue)"/>
<rect x="174.1" y="457.56" width="5.9" height="44.94" fill="url(#vshade)"/>
<rect x="179.85" y="486.54" width="5.9" height="15.96" fill="url(#g_red)"/>
<rect x="179.85" y="486.54" width="5.9" height="15.96" fill="url(#vshade)"/>
<rect x="185.6" y="482.76" width="5.9" height="19.74" fill="url(#g_green)"/>
<rect x="185.6" y="482.76" width="5.9" height="19.74" fill="url(#vshade)"/>
<rect x="191.35" y="490.32" width="5.9" height="12.18" fill="url(#g_purple)"/>
<rect x="191.35" y="490.32" width="5.9" height="12.18" fill="url(#vshade)"/>
<rect x="197.1" y="477.93" width="5.9" height="24.57" fill="url(#g_cyan)"/>
<rect x="197.1" y="477.93" width="5.9" height="24.57" fill="url(#vshade)"/>
<rect x="202.85" y="495.15" width="5.9" height="7.35" fill="url(#g_orange)"/>
<rect x="202.85" y="495.15" width="5.9" height="7.35" fill="url(#vshade)"/>
<rect x="217" y="477.3" width="5.9" height="25.2" fill="url(#g_blue)"/>
<rect x="217" y="477.3" width="5.9" height="25.2" fill="url(#vshade)"/>
<rect x="222.75" y="464.91" width="5.9" height="37.59" fill="url(#g_red)"/>
<rect x="222.75" y="464.91" width="5.9" height="37.59" fill="url(#vshade)"/>
<rect x="228.5" y="460.92" width="5.9" height="41.58" fill="url(#g_green)"/>
<rect x="228.5" y="460.92" width="5.9" height="41.58" fill="url(#vshade)"/>
<rect x="234.25" y="452.1" width="5.9" height="50.4" fill="url(#g_purple)"/>
<rect x="234.25" y="452.1" width="5.9" height="50.4" fill="url(#vshade)"/>
<rect x="240" y="444.12" width="5.9" height="58.38" fill="url(#g_cyan)"/>
<rect x="240" y="444.12" width="5.9" height="58.38" fill="url(#vshade)"/>
<rect x="245.75" y="435.3" width="5.9" height="67.2" fill="url(#g_orange)"/>
<rect x="245.75" y="435.3" width="5.9" height="67.2" fill="url(#vshade)"/>
<rect x="260.2" y="468.9" width="5.9" height="33.6" fill="url(#g_blue)"/>
<rect x="260.2" y="468.9" width="5.9" height="33.6" fill="url(#vshade)"/>
<rect x="265.95" y="410.1" width="5.9" height="92.4" fill="url(#g_red)"/>
<rect x="265.95" y="410.1" width="5.9" height="92.4" fill="url(#vshade)"/>
<rect x="271.7" y="402.54" width="5.9" height="99.96" fill="url(#g_green)"/>
<rect x="271.7" y="402.54" width="5.9" height="99.96" fill="url(#vshade)"/>
<rect x="277.45" y="426.9" width="5.9" height="75.6" fill="url(#g_purple)"/>
<rect x="277.45" y="426.9" width="5.9" height="75.6" fill="url(#vshade)"/>
<rect x="283.2" y="414.72" width="5.9" height="87.78" fill="url(#g_cyan)"/>
<rect x="283.2" y="414.72" width="5.9" height="87.78" fill="url(#vshade)"/>
<rect x="288.95" y="389.52" width="5.9" height="112.98" fill="url(#g_orange)"/>
<rect x="288.95" y="389.52" width="5.9" height="112.98" fill="url(#vshade)"/>
<line x1="47.68" y1="450" x2="47.68" y2="456.72" stroke="#14203c" stroke-width="1"/>
<line x1="45.49" y1="450" x2="49.86" y2="450" stroke="#14203c" stroke-width="1"/>
<line x1="45.49" y1="456.72" x2="49.86" y2="456.72" stroke="#14203c" stroke-width="1"/>
<line x1="53.43" y1="489.48" x2="53.43" y2="491.16" stroke="#3c1514" stroke-width="1"/>
<line x1="51.24" y1="489.48" x2="55.61" y2="489.48" stroke="#3c1514" stroke-width="1"/>
<line x1="51.24" y1="491.16" x2="55.61" y2="491.16" stroke="#3c1514" stroke-width="1"/>
<line x1="59.18" y1="485.28" x2="59.18" y2="487.8" stroke="#2a3a16" stroke-width="1"/>
<line x1="56.99" y1="485.28" x2="61.36" y2="485.28" stroke="#2a3a16" stroke-width="1"/>
<line x1="56.99" y1="487.8" x2="61.36" y2="487.8" stroke="#2a3a16" stroke-width="1"/>
<line x1="64.93" y1="493.68" x2="64.93" y2="495.36" stroke="#241a38" stroke-width="1"/>
<line x1="62.74" y1="493.68" x2="67.11" y2="493.68" stroke="#241a38" stroke-width="1"/>
<line x1="62.74" y1="495.36" x2="67.11" y2="495.36" stroke="#241a38" stroke-width="1"/>
<line x1="70.68" y1="489.48" x2="70.68" y2="491.16" stroke="#0e2f3e" stroke-width="1"/>
<line x1="68.49" y1="489.48" x2="72.86" y2="489.48" stroke="#0e2f3e" stroke-width="1"/>
<line x1="68.49" y1="491.16" x2="72.86" y2="491.16" stroke="#0e2f3e" stroke-width="1"/>
<line x1="76.43" y1="489.9" x2="76.43" y2="491.58" stroke="#4a2a10" stroke-width="1"/>
<line x1="74.24" y1="489.9" x2="78.61" y2="489.9" stroke="#4a2a10" stroke-width="1"/>
<line x1="74.24" y1="491.58" x2="78.61" y2="491.58" stroke="#4a2a10" stroke-width="1"/>
<line x1="90.88" y1="466.8" x2="90.88" y2="471" stroke="#14203c" stroke-width="1"/>
<line x1="88.69" y1="466.8" x2="93.06" y2="466.8" stroke="#14203c" stroke-width="1"/>
<line x1="88.69" y1="471" x2="93.06" y2="471" stroke="#14203c" stroke-width="1"/>
<line x1="96.62" y1="461.76" x2="96.62" y2="467.64" stroke="#3c1514" stroke-width="1"/>
<line x1="94.44" y1="461.76" x2="98.81" y2="461.76" stroke="#3c1514" stroke-width="1"/>
<line x1="94.44" y1="467.64" x2="98.81" y2="467.64" stroke="#3c1514" stroke-width="1"/>
<line x1="102.38" y1="458.4" x2="102.38" y2="464.28" stroke="#2a3a16" stroke-width="1"/>
<line x1="100.19" y1="458.4" x2="104.56" y2="458.4" stroke="#2a3a16" stroke-width="1"/>
<line x1="100.19" y1="464.28" x2="104.56" y2="464.28" stroke="#2a3a16" stroke-width="1"/>
<line x1="108.12" y1="463.44" x2="108.12" y2="467.64" stroke="#241a38" stroke-width="1"/>
<line x1="105.94" y1="463.44" x2="110.31" y2="463.44" stroke="#241a38" stroke-width="1"/>
<line x1="105.94" y1="467.64" x2="110.31" y2="467.64" stroke="#241a38" stroke-width="1"/>
<line x1="113.88" y1="455.04" x2="113.88" y2="459.24" stroke="#0e2f3e" stroke-width="1"/>
<line x1="111.69" y1="455.04" x2="116.06" y2="455.04" stroke="#0e2f3e" stroke-width="1"/>
<line x1="111.69" y1="459.24" x2="116.06" y2="459.24" stroke="#0e2f3e" stroke-width="1"/>
<line x1="119.62" y1="463.44" x2="119.62" y2="467.64" stroke="#4a2a10" stroke-width="1"/>
<line x1="117.44" y1="463.44" x2="121.81" y2="463.44" stroke="#4a2a10" stroke-width="1"/>
<line x1="117.44" y1="467.64" x2="121.81" y2="467.64" stroke="#4a2a10" stroke-width="1"/>
<line x1="133.68" y1="471" x2="133.68" y2="475.2" stroke="#14203c" stroke-width="1"/>
<line x1="131.49" y1="471" x2="135.86" y2="471" stroke="#14203c" stroke-width="1"/>
<line x1="131.49" y1="475.2" x2="135.86" y2="475.2" stroke="#14203c" stroke-width="1"/>
<line x1="139.43" y1="457.56" x2="139.43" y2="463.44" stroke="#3c1514" stroke-width="1"/>
<line x1="137.24" y1="457.56" x2="141.61" y2="457.56" stroke="#3c1514" stroke-width="1"/>
<line x1="137.24" y1="463.44" x2="141.61" y2="463.44" stroke="#3c1514" stroke-width="1"/>
<line x1="145.18" y1="445.38" x2="145.18" y2="452.94" stroke="#2a3a16" stroke-width="1"/>
<line x1="142.99" y1="445.38" x2="147.36" y2="445.38" stroke="#2a3a16" stroke-width="1"/>
<line x1="142.99" y1="452.94" x2="147.36" y2="452.94" stroke="#2a3a16" stroke-width="1"/>
<line x1="150.93" y1="458.82" x2="150.93" y2="463.86" stroke="#241a38" stroke-width="1"/>
<line x1="148.74" y1="458.82" x2="153.11" y2="458.82" stroke="#241a38" stroke-width="1"/>
<line x1="148.74" y1="463.86" x2="153.11" y2="463.86" stroke="#241a38" stroke-width="1"/>
<line x1="156.68" y1="442.44" x2="156.68" y2="446.64" stroke="#0e2f3e" stroke-width="1"/>
<line x1="154.49" y1="442.44" x2="158.86" y2="442.44" stroke="#0e2f3e" stroke-width="1"/>
<line x1="154.49" y1="446.64" x2="158.86" y2="446.64" stroke="#0e2f3e" stroke-width="1"/>
<line x1="162.43" y1="450.84" x2="162.43" y2="455.88" stroke="#4a2a10" stroke-width="1"/>
<line x1="160.24" y1="450.84" x2="164.61" y2="450.84" stroke="#4a2a10" stroke-width="1"/>
<line x1="160.24" y1="455.88" x2="164.61" y2="455.88" stroke="#4a2a10" stroke-width="1"/>
<line x1="176.97" y1="455.04" x2="176.97" y2="460.08" stroke="#14203c" stroke-width="1"/>
<line x1="174.79" y1="455.04" x2="179.16" y2="455.04" stroke="#14203c" stroke-width="1"/>
<line x1="174.79" y1="460.08" x2="179.16" y2="460.08" stroke="#14203c" stroke-width="1"/>
<line x1="182.72" y1="485.28" x2="182.72" y2="487.8" stroke="#3c1514" stroke-width="1"/>
<line x1="180.54" y1="485.28" x2="184.91" y2="485.28" stroke="#3c1514" stroke-width="1"/>
<line x1="180.54" y1="487.8" x2="184.91" y2="487.8" stroke="#3c1514" stroke-width="1"/>
<line x1="188.47" y1="481.5" x2="188.47" y2="484.02" stroke="#2a3a16" stroke-width="1"/>
<line x1="186.29" y1="481.5" x2="190.66" y2="481.5" stroke="#2a3a16" stroke-width="1"/>
<line x1="186.29" y1="484.02" x2="190.66" y2="484.02" stroke="#2a3a16" stroke-width="1"/>
<line x1="194.22" y1="489.06" x2="194.22" y2="491.58" stroke="#241a38" stroke-width="1"/>
<line x1="192.04" y1="489.06" x2="196.41" y2="489.06" stroke="#241a38" stroke-width="1"/>
<line x1="192.04" y1="491.58" x2="196.41" y2="491.58" stroke="#241a38" stroke-width="1"/>
<line x1="199.97" y1="477.09" x2="199.97" y2="478.77" stroke="#0e2f3e" stroke-width="1"/>
<line x1="197.79" y1="477.09" x2="202.16" y2="477.09" stroke="#0e2f3e" stroke-width="1"/>
<line x1="197.79" y1="478.77" x2="202.16" y2="478.77" stroke="#0e2f3e" stroke-width="1"/>
<line x1="205.72" y1="494.31" x2="205.72" y2="495.99" stroke="#4a2a10" stroke-width="1"/>
<line x1="203.54" y1="494.31" x2="207.91" y2="494.31" stroke="#4a2a10" stroke-width="1"/>
<line x1="203.54" y1="495.99" x2="207.91" y2="495.99" stroke="#4a2a10" stroke-width="1"/>
<line x1="219.88" y1="475.62" x2="219.88" y2="478.98" stroke="#14203c" stroke-width="1"/>
<line x1="217.69" y1="475.62" x2="222.06" y2="475.62" stroke="#14203c" stroke-width="1"/>
<line x1="217.69" y1="478.98" x2="222.06" y2="478.98" stroke="#14203c" stroke-width="1"/>
<line x1="225.62" y1="462.39" x2="225.62" y2="467.43" stroke="#3c1514" stroke-width="1"/>
<line x1="223.44" y1="462.39" x2="227.81" y2="462.39" stroke="#3c1514" stroke-width="1"/>
<line x1="223.44" y1="467.43" x2="227.81" y2="467.43" stroke="#3c1514" stroke-width="1"/>
<line x1="231.38" y1="458.4" x2="231.38" y2="463.44" stroke="#2a3a16" stroke-width="1"/>
<line x1="229.19" y1="458.4" x2="233.56" y2="458.4" stroke="#2a3a16" stroke-width="1"/>
<line x1="229.19" y1="463.44" x2="233.56" y2="463.44" stroke="#2a3a16" stroke-width="1"/>
<line x1="237.12" y1="449.16" x2="237.12" y2="455.04" stroke="#241a38" stroke-width="1"/>
<line x1="234.94" y1="449.16" x2="239.31" y2="449.16" stroke="#241a38" stroke-width="1"/>
<line x1="234.94" y1="455.04" x2="239.31" y2="455.04" stroke="#241a38" stroke-width="1"/>
<line x1="242.88" y1="442.02" x2="242.88" y2="446.22" stroke="#0e2f3e" stroke-width="1"/>
<line x1="240.69" y1="442.02" x2="245.06" y2="442.02" stroke="#0e2f3e" stroke-width="1"/>
<line x1="240.69" y1="446.22" x2="245.06" y2="446.22" stroke="#0e2f3e" stroke-width="1"/>
<line x1="248.62" y1="431.52" x2="248.62" y2="439.08" stroke="#4a2a10" stroke-width="1"/>
<line x1="246.44" y1="431.52" x2="250.81" y2="431.52" stroke="#4a2a10" stroke-width="1"/>
<line x1="246.44" y1="439.08" x2="250.81" y2="439.08" stroke="#4a2a10" stroke-width="1"/>
<line x1="263.07" y1="467.22" x2="263.07" y2="470.58" stroke="#14203c" stroke-width="1"/>
<line x1="260.89" y1="467.22" x2="265.26" y2="467.22" stroke="#14203c" stroke-width="1"/>
<line x1="260.89" y1="470.58" x2="265.26" y2="470.58" stroke="#14203c" stroke-width="1"/>
<line x1="268.82" y1="404.22" x2="268.82" y2="415.98" stroke="#3c1514" stroke-width="1"/>
<line x1="266.64" y1="404.22" x2="271.01" y2="404.22" stroke="#3c1514" stroke-width="1"/>
<line x1="266.64" y1="415.98" x2="271.01" y2="415.98" stroke="#3c1514" stroke-width="1"/>
<line x1="274.57" y1="397.08" x2="274.57" y2="408" stroke="#2a3a16" stroke-width="1"/>
<line x1="272.39" y1="397.08" x2="276.76" y2="397.08" stroke="#2a3a16" stroke-width="1"/>
<line x1="272.39" y1="408" x2="276.76" y2="408" stroke="#2a3a16" stroke-width="1"/>
<line x1="280.32" y1="423.54" x2="280.32" y2="430.26" stroke="#241a38" stroke-width="1"/>
<line x1="278.14" y1="423.54" x2="282.51" y2="423.54" stroke="#241a38" stroke-width="1"/>
<line x1="278.14" y1="430.26" x2="282.51" y2="430.26" stroke="#241a38" stroke-width="1"/>
<line x1="286.07" y1="411.78" x2="286.07" y2="417.66" stroke="#0e2f3e" stroke-width="1"/>
<line x1="283.89" y1="411.78" x2="288.26" y2="411.78" stroke="#0e2f3e" stroke-width="1"/>
<line x1="283.89" y1="417.66" x2="288.26" y2="417.66" stroke="#0e2f3e" stroke-width="1"/>
<line x1="291.82" y1="384.06" x2="291.82" y2="394.98" stroke="#4a2a10" stroke-width="1"/>
<line x1="289.64" y1="384.06" x2="294.01" y2="384.06" stroke="#4a2a10" stroke-width="1"/>
<line x1="289.64" y1="394.98" x2="294.01" y2="394.98" stroke="#4a2a10" stroke-width="1"/>
<line x1="39.2" y1="376" x2="39.2" y2="505.5" stroke="#111" stroke-width="1.9"/>
<line x1="36.2" y1="502.5" x2="299" y2="502.5" stroke="#111" stroke-width="1.9"/>
<line x1="82.4" y1="502.2" x2="82.4" y2="505.5" stroke="#111" stroke-width="1.71"/>
<line x1="125.6" y1="502.2" x2="125.6" y2="505.5" stroke="#111" stroke-width="1.71"/>
<line x1="168.8" y1="502.2" x2="168.8" y2="505.5" stroke="#111" stroke-width="1.71"/>
<line x1="212" y1="502.2" x2="212" y2="505.5" stroke="#111" stroke-width="1.71"/>
<line x1="255.2" y1="502.2" x2="255.2" y2="505.5" stroke="#111" stroke-width="1.71"/>
<line x1="298.4" y1="502.2" x2="298.4" y2="505.5" stroke="#111" stroke-width="1.71"/>
<line x1="36.2" y1="502.5" x2="39.2" y2="502.5" stroke="#111" stroke-width="1.61"/>
<text x="31.6" y="506.7" font-size="10" text-anchor="end" font-weight="bold" fill="#111">0</text>
<line x1="36.2" y1="481.5" x2="39.2" y2="481.5" stroke="#111" stroke-width="1.61"/>
<text x="31.6" y="485.7" font-size="10" text-anchor="end" font-weight="bold" fill="#111">0.5</text>
<line x1="36.2" y1="460.5" x2="39.2" y2="460.5" stroke="#111" stroke-width="1.61"/>
<text x="31.6" y="464.7" font-size="10" text-anchor="end" font-weight="bold" fill="#111">1</text>
<line x1="36.2" y1="439.5" x2="39.2" y2="439.5" stroke="#111" stroke-width="1.61"/>
<text x="31.6" y="443.7" font-size="10" text-anchor="end" font-weight="bold" fill="#111">1.5</text>
<line x1="36.2" y1="418.5" x2="39.2" y2="418.5" stroke="#111" stroke-width="1.61"/>
<text x="31.6" y="422.7" font-size="10" text-anchor="end" font-weight="bold" fill="#111">2</text>
<line x1="36.2" y1="397.5" x2="39.2" y2="397.5" stroke="#111" stroke-width="1.61"/>
<text x="31.6" y="401.7" font-size="10" text-anchor="end" font-weight="bold" fill="#111">2.5</text>
<line x1="36.2" y1="376.5" x2="39.2" y2="376.5" stroke="#111" stroke-width="1.61"/>
<text x="31.6" y="380.7" font-size="10" text-anchor="end" font-weight="bold" fill="#111">3</text>
<text x="61.2" y="521.7" font-size="10.4" text-anchor="middle" font-weight="bold" fill="#111">miR-17</text>
<text x="104.4" y="521.7" font-size="10.4" text-anchor="middle" font-weight="bold" fill="#111">miR-18</text>
<text x="147.6" y="521.7" font-size="10.4" text-anchor="middle" font-weight="bold" fill="#111">miR-19a</text>
<text x="190.8" y="521.7" font-size="10.4" text-anchor="middle" font-weight="bold" fill="#111">miR-20</text>
<text x="234" y="521.7" font-size="10.4" text-anchor="middle" font-weight="bold" fill="#111">miR-19b</text>
<text x="281.6" y="521.7" font-size="10.4" text-anchor="middle" font-weight="bold" fill="#111">miR-92a</text>
<text x="15.3" y="440" font-size="11.5" text-anchor="middle" font-weight="bold" fill="#111" transform="rotate(-90 15.3 440)">Relative miRNA levels</text>
<rect x="60.6" y="383.8" width="4.8" height="3.5" fill="url(#g_blue)"/>
<text x="68.6" y="390" font-size="10.45" text-anchor="start" font-weight="bold" fill="#111">Normal</text>
<rect x="124.6" y="383.8" width="4.8" height="3.5" fill="url(#g_red)"/>
<text x="132.6" y="390" font-size="10.45" text-anchor="start" font-weight="bold" fill="#111">Patient 1</text>
<rect x="60.6" y="401.2" width="4.8" height="3.5" fill="url(#g_green)"/>
<text x="68.6" y="407.4" font-size="10.45" text-anchor="start" font-weight="bold" fill="#111">Patient 5</text>
<rect x="124.6" y="401.2" width="4.8" height="3.5" fill="url(#g_purple)"/>
<text x="132.6" y="407.4" font-size="10.45" text-anchor="start" font-weight="bold" fill="#111">Patient 7</text>
<rect x="60.6" y="418.6" width="4.8" height="3.5" fill="url(#g_cyan)"/>
<text x="68.6" y="424.8" font-size="10.45" text-anchor="start" font-weight="bold" fill="#111">Patient 12</text>
<rect x="124.6" y="418.6" width="4.8" height="3.5" fill="url(#g_orange)"/>
<text x="132.6" y="424.8" font-size="10.45" text-anchor="start" font-weight="bold" fill="#111">Patient 10</text>
<rect x="47.3" y="628.4" width="5.8" height="40.1" fill="#0a0a0a"/>
<rect x="53.1" y="587.1" width="5.8" height="81.4" fill="#0a0a0a"/>
<rect x="58.9" y="611.88" width="5.8" height="56.62" fill="#0a0a0a"/>
<rect x="64.7" y="591.23" width="5.8" height="77.27" fill="#0a0a0a"/>
<rect x="70.5" y="599.49" width="5.8" height="69.01" fill="#0a0a0a"/>
<rect x="76.3" y="575.54" width="5.8" height="92.96" fill="#0a0a0a"/>
<rect x="90.9" y="636.66" width="5.8" height="31.84" fill="#0a0a0a"/>
<rect x="96.7" y="640.79" width="5.8" height="27.71" fill="#0a0a0a"/>
<rect x="102.5" y="637.49" width="5.8" height="31.01" fill="#0a0a0a"/>
<rect x="108.3" y="632.53" width="5.8" height="35.97" fill="#0a0a0a"/>
<rect x="114.1" y="640.79" width="5.8" height="27.71" fill="#0a0a0a"/>
<rect x="119.9" y="633.36" width="5.8" height="35.14" fill="#0a0a0a"/>
<rect x="134.5" y="640.79" width="5.8" height="27.71" fill="#0a0a0a"/>
<rect x="140.3" y="636.66" width="5.8" height="31.84" fill="#0a0a0a"/>
<rect x="146.1" y="641.62" width="5.8" height="26.88" fill="#0a0a0a"/>
<rect x="151.9" y="632.53" width="5.8" height="35.97" fill="#0a0a0a"/>
<rect x="157.7" y="636.66" width="5.8" height="31.84" fill="#0a0a0a"/>
<rect x="163.5" y="629.23" width="5.8" height="39.27" fill="#0a0a0a"/>
<rect x="178.1" y="644.92" width="5.8" height="23.58" fill="#0a0a0a"/>
<rect x="183.9" y="616.01" width="5.8" height="52.49" fill="#0a0a0a"/>
<rect x="189.7" y="620.14" width="5.8" height="48.36" fill="#0a0a0a"/>
<rect x="195.5" y="599.49" width="5.8" height="69.01" fill="#0a0a0a"/>
<rect x="201.3" y="604.86" width="5.8" height="63.64" fill="#0a0a0a"/>
<rect x="207.1" y="613.12" width="5.8" height="55.38" fill="#0a0a0a"/>
<rect x="221.7" y="636.66" width="5.8" height="31.84" fill="#0a0a0a"/>
<rect x="227.5" y="632.53" width="5.8" height="35.97" fill="#0a0a0a"/>
<rect x="233.3" y="628.4" width="5.8" height="40.1" fill="#0a0a0a"/>
<rect x="239.1" y="636.66" width="5.8" height="31.84" fill="#0a0a0a"/>
<rect x="244.9" y="632.53" width="5.8" height="35.97" fill="#0a0a0a"/>
<rect x="250.7" y="625.1" width="5.8" height="43.4" fill="#0a0a0a"/>
<rect x="265.3" y="632.53" width="5.8" height="35.97" fill="#0a0a0a"/>
<rect x="271.1" y="653.18" width="5.8" height="15.32" fill="#0a0a0a"/>
<rect x="276.9" y="645.75" width="5.8" height="22.75" fill="#0a0a0a"/>
<rect x="282.7" y="658.14" width="5.8" height="10.36" fill="#0a0a0a"/>
<rect x="288.5" y="653.18" width="5.8" height="15.32" fill="#0a0a0a"/>
<rect x="294.3" y="663.5" width="5.8" height="4.99" fill="#0a0a0a"/>
<rect x="45.6" y="627.2" width="5.95" height="41.3" fill="url(#g_blue)"/>
<rect x="45.6" y="627.2" width="5.95" height="41.3" fill="url(#vshade)"/>
<rect x="51.4" y="585.9" width="5.95" height="82.6" fill="url(#g_red)"/>
<rect x="51.4" y="585.9" width="5.95" height="82.6" fill="url(#vshade)"/>
<rect x="57.2" y="610.68" width="5.95" height="57.82" fill="url(#g_green)"/>
<rect x="57.2" y="610.68" width="5.95" height="57.82" fill="url(#vshade)"/>
<rect x="63" y="590.03" width="5.95" height="78.47" fill="url(#g_purple)"/>
<rect x="63" y="590.03" width="5.95" height="78.47" fill="url(#vshade)"/>
<rect x="68.8" y="598.29" width="5.95" height="70.21" fill="url(#g_cyan)"/>
<rect x="68.8" y="598.29" width="5.95" height="70.21" fill="url(#vshade)"/>
<rect x="74.6" y="574.34" width="5.95" height="94.16" fill="url(#g_orange)"/>
<rect x="74.6" y="574.34" width="5.95" height="94.16" fill="url(#vshade)"/>
<rect x="89.2" y="635.46" width="5.95" height="33.04" fill="url(#g_blue)"/>
<rect x="89.2" y="635.46" width="5.95" height="33.04" fill="url(#vshade)"/>
<rect x="95" y="639.59" width="5.95" height="28.91" fill="url(#g_red)"/>
<rect x="95" y="639.59" width="5.95" height="28.91" fill="url(#vshade)"/>
<rect x="100.8" y="636.29" width="5.95" height="32.21" fill="url(#g_green)"/>
<rect x="100.8" y="636.29" width="5.95" height="32.21" fill="url(#vshade)"/>
<rect x="106.6" y="631.33" width="5.95" height="37.17" fill="url(#g_purple)"/>
<rect x="106.6" y="631.33" width="5.95" height="37.17" fill="url(#vshade)"/>
<rect x="112.4" y="639.59" width="5.95" height="28.91" fill="url(#g_cyan)"/>
<rect x="112.4" y="639.59" width="5.95" height="28.91" fill="url(#vshade)"/>
<rect x="118.2" y="632.16" width="5.95" height="36.34" fill="url(#g_orange)"/>
<rect x="118.2" y="632.16" width="5.95" height="36.34" fill="url(#vshade)"/>
<rect x="132.8" y="639.59" width="5.95" height="28.91" fill="url(#g_blue)"/>
<rect x="132.8" y="639.59" width="5.95" height="28.91" fill="url(#vshade)"/>
<rect x="138.6" y="635.46" width="5.95" height="33.04" fill="url(#g_red)"/>
<rect x="138.6" y="635.46" width="5.95" height="33.04" fill="url(#vshade)"/>
<rect x="144.4" y="640.42" width="5.95" height="28.08" fill="url(#g_green)"/>
<rect x="144.4" y="640.42" width="5.95" height="28.08" fill="url(#vshade)"/>
<rect x="150.2" y="631.33" width="5.95" height="37.17" fill="url(#g_purple)"/>
<rect x="150.2" y="631.33" width="5.95" height="37.17" fill="url(#vshade)"/>
<rect x="156" y="635.46" width="5.95" height="33.04" fill="url(#g_cyan)"/>
<rect x="156" y="635.46" width="5.95" height="33.04" fill="url(#vshade)"/>
<rect x="161.8" y="628.03" width="5.95" height="40.47" fill="url(#g_orange)"/>
<rect x="161.8" y="628.03" width="5.95" height="40.47" fill="url(#vshade)"/>
<rect x="176.4" y="643.72" width="5.95" height="24.78" fill="url(#g_blue)"/>
<rect x="176.4" y="643.72" width="5.95" height="24.78" fill="url(#vshade)"/>
<rect x="182.2" y="614.81" width="5.95" height="53.69" fill="url(#g_red)"/>
<rect x="182.2" y="614.81" width="5.95" height="53.69" fill="url(#vshade)"/>
<rect x="188" y="618.94" width="5.95" height="49.56" fill="url(#g_green)"/>
<rect x="188" y="618.94" width="5.95" height="49.56" fill="url(#vshade)"/>
<rect x="193.8" y="598.29" width="5.95" height="70.21" fill="url(#g_purple)"/>
<rect x="193.8" y="598.29" width="5.95" height="70.21" fill="url(#vshade)"/>
<rect x="199.6" y="603.66" width="5.95" height="64.84" fill="url(#g_cyan)"/>
<rect x="199.6" y="603.66" width="5.95" height="64.84" fill="url(#vshade)"/>
<rect x="205.4" y="611.92" width="5.95" height="56.58" fill="url(#g_orange)"/>
<rect x="205.4" y="611.92" width="5.95" height="56.58" fill="url(#vshade)"/>
<rect x="220" y="635.46" width="5.95" height="33.04" fill="url(#g_blue)"/>
<rect x="220" y="635.46" width="5.95" height="33.04" fill="url(#vshade)"/>
<rect x="225.8" y="631.33" width="5.95" height="37.17" fill="url(#g_red)"/>
<rect x="225.8" y="631.33" width="5.95" height="37.17" fill="url(#vshade)"/>
<rect x="231.6" y="627.2" width="5.95" height="41.3" fill="url(#g_green)"/>
<rect x="231.6" y="627.2" width="5.95" height="41.3" fill="url(#vshade)"/>
<rect x="237.4" y="635.46" width="5.95" height="33.04" fill="url(#g_purple)"/>
<rect x="237.4" y="635.46" width="5.95" height="33.04" fill="url(#vshade)"/>
<rect x="243.2" y="631.33" width="5.95" height="37.17" fill="url(#g_cyan)"/>
<rect x="243.2" y="631.33" width="5.95" height="37.17" fill="url(#vshade)"/>
<rect x="249" y="623.9" width="5.95" height="44.6" fill="url(#g_orange)"/>
<rect x="249" y="623.9" width="5.95" height="44.6" fill="url(#vshade)"/>
<rect x="263.6" y="631.33" width="5.95" height="37.17" fill="url(#g_blue)"/>
<rect x="263.6" y="631.33" width="5.95" height="37.17" fill="url(#vshade)"/>
<rect x="269.4" y="651.98" width="5.95" height="16.52" fill="url(#g_red)"/>
<rect x="269.4" y="651.98" width="5.95" height="16.52" fill="url(#vshade)"/>
<rect x="275.2" y="644.55" width="5.95" height="23.95" fill="url(#g_green)"/>
<rect x="275.2" y="644.55" width="5.95" height="23.95" fill="url(#vshade)"/>
<rect x="281" y="656.94" width="5.95" height="11.56" fill="url(#g_purple)"/>
<rect x="281" y="656.94" width="5.95" height="11.56" fill="url(#vshade)"/>
<rect x="286.8" y="651.98" width="5.95" height="16.52" fill="url(#g_cyan)"/>
<rect x="286.8" y="651.98" width="5.95" height="16.52" fill="url(#vshade)"/>
<rect x="292.6" y="662.3" width="5.95" height="6.19" fill="url(#g_orange)"/>
<rect x="292.6" y="662.3" width="5.95" height="6.19" fill="url(#vshade)"/>
<line x1="48.5" y1="624.72" x2="48.5" y2="629.68" stroke="#14203c" stroke-width="1"/>
<line x1="46.3" y1="624.72" x2="50.7" y2="624.72" stroke="#14203c" stroke-width="1"/>
<line x1="46.3" y1="629.68" x2="50.7" y2="629.68" stroke="#14203c" stroke-width="1"/>
<line x1="54.3" y1="581.77" x2="54.3" y2="590.03" stroke="#3c1514" stroke-width="1"/>
<line x1="52.1" y1="581.77" x2="56.5" y2="581.77" stroke="#3c1514" stroke-width="1"/>
<line x1="52.1" y1="590.03" x2="56.5" y2="590.03" stroke="#3c1514" stroke-width="1"/>
<line x1="60.1" y1="607.38" x2="60.1" y2="613.98" stroke="#2a3a16" stroke-width="1"/>
<line x1="57.9" y1="607.38" x2="62.3" y2="607.38" stroke="#2a3a16" stroke-width="1"/>
<line x1="57.9" y1="613.98" x2="62.3" y2="613.98" stroke="#2a3a16" stroke-width="1"/>
<line x1="65.9" y1="585.9" x2="65.9" y2="594.16" stroke="#241a38" stroke-width="1"/>
<line x1="63.7" y1="585.9" x2="68.1" y2="585.9" stroke="#241a38" stroke-width="1"/>
<line x1="63.7" y1="594.16" x2="68.1" y2="594.16" stroke="#241a38" stroke-width="1"/>
<line x1="71.7" y1="595.81" x2="71.7" y2="600.77" stroke="#0e2f3e" stroke-width="1"/>
<line x1="69.5" y1="595.81" x2="73.9" y2="595.81" stroke="#0e2f3e" stroke-width="1"/>
<line x1="69.5" y1="600.77" x2="73.9" y2="600.77" stroke="#0e2f3e" stroke-width="1"/>
<line x1="77.5" y1="570.21" x2="77.5" y2="578.47" stroke="#4a2a10" stroke-width="1"/>
<line x1="75.3" y1="570.21" x2="79.7" y2="570.21" stroke="#4a2a10" stroke-width="1"/>
<line x1="75.3" y1="578.47" x2="79.7" y2="578.47" stroke="#4a2a10" stroke-width="1"/>
<line x1="92.1" y1="633.39" x2="92.1" y2="637.52" stroke="#14203c" stroke-width="1"/>
<line x1="89.9" y1="633.39" x2="94.3" y2="633.39" stroke="#14203c" stroke-width="1"/>
<line x1="89.9" y1="637.52" x2="94.3" y2="637.52" stroke="#14203c" stroke-width="1"/>
<line x1="97.9" y1="637.94" x2="97.9" y2="641.24" stroke="#3c1514" stroke-width="1"/>
<line x1="95.7" y1="637.94" x2="100.1" y2="637.94" stroke="#3c1514" stroke-width="1"/>
<line x1="95.7" y1="641.24" x2="100.1" y2="641.24" stroke="#3c1514" stroke-width="1"/>
<line x1="103.7" y1="633.81" x2="103.7" y2="638.76" stroke="#2a3a16" stroke-width="1"/>
<line x1="101.5" y1="633.81" x2="105.9" y2="633.81" stroke="#2a3a16" stroke-width="1"/>
<line x1="101.5" y1="638.76" x2="105.9" y2="638.76" stroke="#2a3a16" stroke-width="1"/>
<line x1="109.5" y1="628.85" x2="109.5" y2="633.81" stroke="#241a38" stroke-width="1"/>
<line x1="107.3" y1="628.85" x2="111.7" y2="628.85" stroke="#241a38" stroke-width="1"/>
<line x1="107.3" y1="633.81" x2="111.7" y2="633.81" stroke="#241a38" stroke-width="1"/>
<line x1="115.3" y1="638.35" x2="115.3" y2="640.83" stroke="#0e2f3e" stroke-width="1"/>
<line x1="113.1" y1="638.35" x2="117.5" y2="638.35" stroke="#0e2f3e" stroke-width="1"/>
<line x1="113.1" y1="640.83" x2="117.5" y2="640.83" stroke="#0e2f3e" stroke-width="1"/>
<line x1="121.1" y1="630.09" x2="121.1" y2="634.22" stroke="#4a2a10" stroke-width="1"/>
<line x1="118.9" y1="630.09" x2="123.3" y2="630.09" stroke="#4a2a10" stroke-width="1"/>
<line x1="118.9" y1="634.22" x2="123.3" y2="634.22" stroke="#4a2a10" stroke-width="1"/>
<line x1="135.7" y1="637.94" x2="135.7" y2="641.24" stroke="#14203c" stroke-width="1"/>
<line x1="133.5" y1="637.94" x2="137.9" y2="637.94" stroke="#14203c" stroke-width="1"/>
<line x1="133.5" y1="641.24" x2="137.9" y2="641.24" stroke="#14203c" stroke-width="1"/>
<line x1="141.5" y1="632.98" x2="141.5" y2="637.94" stroke="#3c1514" stroke-width="1"/>
<line x1="139.3" y1="632.98" x2="143.7" y2="632.98" stroke="#3c1514" stroke-width="1"/>
<line x1="139.3" y1="637.94" x2="143.7" y2="637.94" stroke="#3c1514" stroke-width="1"/>
<line x1="147.3" y1="638.76" x2="147.3" y2="642.07" stroke="#2a3a16" stroke-width="1"/>
<line x1="145.1" y1="638.76" x2="149.5" y2="638.76" stroke="#2a3a16" stroke-width="1"/>
<line x1="145.1" y1="642.07" x2="149.5" y2="642.07" stroke="#2a3a16" stroke-width="1"/>
<line x1="153.1" y1="628.85" x2="153.1" y2="633.81" stroke="#241a38" stroke-width="1"/>
<line x1="150.9" y1="628.85" x2="155.3" y2="628.85" stroke="#241a38" stroke-width="1"/>
<line x1="150.9" y1="633.81" x2="155.3" y2="633.81" stroke="#241a38" stroke-width="1"/>
<line x1="158.9" y1="634.22" x2="158.9" y2="636.7" stroke="#0e2f3e" stroke-width="1"/>
<line x1="156.7" y1="634.22" x2="161.1" y2="634.22" stroke="#0e2f3e" stroke-width="1"/>
<line x1="156.7" y1="636.7" x2="161.1" y2="636.7" stroke="#0e2f3e" stroke-width="1"/>
<line x1="164.7" y1="625.96" x2="164.7" y2="630.09" stroke="#4a2a10" stroke-width="1"/>
<line x1="162.5" y1="625.96" x2="166.9" y2="625.96" stroke="#4a2a10" stroke-width="1"/>
<line x1="162.5" y1="630.09" x2="166.9" y2="630.09" stroke="#4a2a10" stroke-width="1"/>
<line x1="179.3" y1="642.07" x2="179.3" y2="645.37" stroke="#14203c" stroke-width="1"/>
<line x1="177.1" y1="642.07" x2="181.5" y2="642.07" stroke="#14203c" stroke-width="1"/>
<line x1="177.1" y1="645.37" x2="181.5" y2="645.37" stroke="#14203c" stroke-width="1"/>
<line x1="185.1" y1="611.51" x2="185.1" y2="618.11" stroke="#3c1514" stroke-width="1"/>
<line x1="182.9" y1="611.51" x2="187.3" y2="611.51" stroke="#3c1514" stroke-width="1"/>
<line x1="182.9" y1="618.11" x2="187.3" y2="618.11" stroke="#3c1514" stroke-width="1"/>
<line x1="190.9" y1="615.64" x2="190.9" y2="622.24" stroke="#2a3a16" stroke-width="1"/>
<line x1="188.7" y1="615.64" x2="193.1" y2="615.64" stroke="#2a3a16" stroke-width="1"/>
<line x1="188.7" y1="622.24" x2="193.1" y2="622.24" stroke="#2a3a16" stroke-width="1"/>
<line x1="196.7" y1="594.16" x2="196.7" y2="602.42" stroke="#241a38" stroke-width="1"/>
<line x1="194.5" y1="594.16" x2="198.9" y2="594.16" stroke="#241a38" stroke-width="1"/>
<line x1="194.5" y1="602.42" x2="198.9" y2="602.42" stroke="#241a38" stroke-width="1"/>
<line x1="202.5" y1="601.59" x2="202.5" y2="605.72" stroke="#0e2f3e" stroke-width="1"/>
<line x1="200.3" y1="601.59" x2="204.7" y2="601.59" stroke="#0e2f3e" stroke-width="1"/>
<line x1="200.3" y1="605.72" x2="204.7" y2="605.72" stroke="#0e2f3e" stroke-width="1"/>
<line x1="208.3" y1="609.03" x2="208.3" y2="614.81" stroke="#4a2a10" stroke-width="1"/>
<line x1="206.1" y1="609.03" x2="210.5" y2="609.03" stroke="#4a2a10" stroke-width="1"/>
<line x1="206.1" y1="614.81" x2="210.5" y2="614.81" stroke="#4a2a10" stroke-width="1"/>
<line x1="222.9" y1="633.39" x2="222.9" y2="637.52" stroke="#14203c" stroke-width="1"/>
<line x1="220.7" y1="633.39" x2="225.1" y2="633.39" stroke="#14203c" stroke-width="1"/>
<line x1="220.7" y1="637.52" x2="225.1" y2="637.52" stroke="#14203c" stroke-width="1"/>
<line x1="228.7" y1="629.26" x2="228.7" y2="633.39" stroke="#3c1514" stroke-width="1"/>
<line x1="226.5" y1="629.26" x2="230.9" y2="629.26" stroke="#3c1514" stroke-width="1"/>
<line x1="226.5" y1="633.39" x2="230.9" y2="633.39" stroke="#3c1514" stroke-width="1"/>
<line x1="234.5" y1="624.72" x2="234.5" y2="629.68" stroke="#2a3a16" stroke-width="1"/>
<line x1="232.3" y1="624.72" x2="236.7" y2="624.72" stroke="#2a3a16" stroke-width="1"/>
<line x1="232.3" y1="629.68" x2="236.7" y2="629.68" stroke="#2a3a16" stroke-width="1"/>
<line x1="240.3" y1="632.98" x2="240.3" y2="637.94" stroke="#241a38" stroke-width="1"/>
<line x1="238.1" y1="632.98" x2="242.5" y2="632.98" stroke="#241a38" stroke-width="1"/>
<line x1="238.1" y1="637.94" x2="242.5" y2="637.94" stroke="#241a38" stroke-width="1"/>
<line x1="246.1" y1="629.68" x2="246.1" y2="632.98" stroke="#0e2f3e" stroke-width="1"/>
<line x1="243.9" y1="629.68" x2="248.3" y2="629.68" stroke="#0e2f3e" stroke-width="1"/>
<line x1="243.9" y1="632.98" x2="248.3" y2="632.98" stroke="#0e2f3e" stroke-width="1"/>
<line x1="251.9" y1="621.42" x2="251.9" y2="626.37" stroke="#4a2a10" stroke-width="1"/>
<line x1="249.7" y1="621.42" x2="254.1" y2="621.42" stroke="#4a2a10" stroke-width="1"/>
<line x1="249.7" y1="626.37" x2="254.1" y2="626.37" stroke="#4a2a10" stroke-width="1"/>
<line x1="266.5" y1="628.85" x2="266.5" y2="633.81" stroke="#14203c" stroke-width="1"/>
<line x1="264.3" y1="628.85" x2="268.7" y2="628.85" stroke="#14203c" stroke-width="1"/>
<line x1="264.3" y1="633.81" x2="268.7" y2="633.81" stroke="#14203c" stroke-width="1"/>
<line x1="272.3" y1="650.74" x2="272.3" y2="653.22" stroke="#3c1514" stroke-width="1"/>
<line x1="270.1" y1="650.74" x2="274.5" y2="650.74" stroke="#3c1514" stroke-width="1"/>
<line x1="270.1" y1="653.22" x2="274.5" y2="653.22" stroke="#3c1514" stroke-width="1"/>
<line x1="278.1" y1="642.89" x2="278.1" y2="646.2" stroke="#2a3a16" stroke-width="1"/>
<line x1="275.9" y1="642.89" x2="280.3" y2="642.89" stroke="#2a3a16" stroke-width="1"/>
<line x1="275.9" y1="646.2" x2="280.3" y2="646.2" stroke="#2a3a16" stroke-width="1"/>
<line x1="283.9" y1="656.11" x2="283.9" y2="657.76" stroke="#241a38" stroke-width="1"/>
<line x1="281.7" y1="656.11" x2="286.1" y2="656.11" stroke="#241a38" stroke-width="1"/>
<line x1="281.7" y1="657.76" x2="286.1" y2="657.76" stroke="#241a38" stroke-width="1"/>
<line x1="289.7" y1="651.15" x2="289.7" y2="652.81" stroke="#0e2f3e" stroke-width="1"/>
<line x1="287.5" y1="651.15" x2="291.9" y2="651.15" stroke="#0e2f3e" stroke-width="1"/>
<line x1="287.5" y1="652.81" x2="291.9" y2="652.81" stroke="#0e2f3e" stroke-width="1"/>
<line x1="295.5" y1="661.89" x2="295.5" y2="662.72" stroke="#4a2a10" stroke-width="1"/>
<line x1="293.3" y1="661.89" x2="297.7" y2="661.89" stroke="#4a2a10" stroke-width="1"/>
<line x1="293.3" y1="662.72" x2="297.7" y2="662.72" stroke="#4a2a10" stroke-width="1"/>
<line x1="40.6" y1="544.1" x2="40.6" y2="671.5" stroke="#111" stroke-width="1.9"/>
<line x1="37.6" y1="668.5" x2="302.8" y2="668.5" stroke="#111" stroke-width="1.9"/>
<line x1="84.2" y1="668.2" x2="84.2" y2="671.5" stroke="#111" stroke-width="1.71"/>
<line x1="127.8" y1="668.2" x2="127.8" y2="671.5" stroke="#111" stroke-width="1.71"/>
<line x1="171.4" y1="668.2" x2="171.4" y2="671.5" stroke="#111" stroke-width="1.71"/>
<line x1="215" y1="668.2" x2="215" y2="671.5" stroke="#111" stroke-width="1.71"/>
<line x1="258.6" y1="668.2" x2="258.6" y2="671.5" stroke="#111" stroke-width="1.71"/>
<line x1="302.2" y1="668.2" x2="302.2" y2="671.5" stroke="#111" stroke-width="1.71"/>
<line x1="37.6" y1="668.5" x2="40.6" y2="668.5" stroke="#111" stroke-width="1.61"/>
<text x="32.6" y="672.43" font-size="9.8" text-anchor="end" font-weight="bold" fill="#111">0</text>
<line x1="37.6" y1="647.85" x2="40.6" y2="647.85" stroke="#111" stroke-width="1.61"/>
<text x="32.6" y="651.78" font-size="9.8" text-anchor="end" font-weight="bold" fill="#111">0.5</text>
<line x1="37.6" y1="627.2" x2="40.6" y2="627.2" stroke="#111" stroke-width="1.61"/>
<text x="32.6" y="631.13" font-size="9.8" text-anchor="end" font-weight="bold" fill="#111">1</text>
<line x1="37.6" y1="606.55" x2="40.6" y2="606.55" stroke="#111" stroke-width="1.61"/>
<text x="32.6" y="610.48" font-size="9.8" text-anchor="end" font-weight="bold" fill="#111">1.5</text>
<line x1="37.6" y1="585.9" x2="40.6" y2="585.9" stroke="#111" stroke-width="1.61"/>
<text x="32.6" y="589.83" font-size="9.8" text-anchor="end" font-weight="bold" fill="#111">2</text>
<line x1="37.6" y1="565.25" x2="40.6" y2="565.25" stroke="#111" stroke-width="1.61"/>
<text x="32.6" y="569.18" font-size="9.8" text-anchor="end" font-weight="bold" fill="#111">2.5</text>
<line x1="37.6" y1="544.6" x2="40.6" y2="544.6" stroke="#111" stroke-width="1.61"/>
<text x="32.6" y="548.53" font-size="9.8" text-anchor="end" font-weight="bold" fill="#111">3</text>
<text x="62.8" y="688.8" font-size="10.4" text-anchor="middle" font-weight="bold" fill="#111">miR-17</text>
<text x="106.4" y="688.8" font-size="10.4" text-anchor="middle" font-weight="bold" fill="#111">miR-18</text>
<text x="150" y="688.8" font-size="10.4" text-anchor="middle" font-weight="bold" fill="#111">miR-19a</text>
<text x="193.6" y="688.8" font-size="10.4" text-anchor="middle" font-weight="bold" fill="#111">miR-20</text>
<text x="237.2" y="688.8" font-size="10.4" text-anchor="middle" font-weight="bold" fill="#111">miR-19b</text>
<text x="283.8" y="688.8" font-size="10.4" text-anchor="middle" font-weight="bold" fill="#111">miR-92a</text>
<text x="15.8" y="607.6" font-size="11.45" text-anchor="middle" font-weight="bold" fill="#111" transform="rotate(-90 15.8 607.6)">Relative miRNA levels</text>
<rect x="93.4" y="545.7" width="5.2" height="3.7" fill="url(#g_blue)"/>
<text x="100.9" y="551.6" font-size="10.4" text-anchor="start" font-weight="bold" fill="#111">Normal</text>
<rect x="182" y="545.7" width="5.2" height="3.7" fill="url(#g_red)"/>
<text x="189.5" y="551.6" font-size="10.4" text-anchor="start" font-weight="bold" fill="#111">Patient 22</text>
<rect x="93.4" y="562" width="5.2" height="3.7" fill="url(#g_green)"/>
<text x="100.9" y="567.9" font-size="10.4" text-anchor="start" font-weight="bold" fill="#111">Patient 23</text>
<rect x="182" y="562" width="5.2" height="3.7" fill="url(#g_purple)"/>
<text x="189.5" y="567.9" font-size="10.4" text-anchor="start" font-weight="bold" fill="#111">Patient 24</text>
<rect x="93.4" y="576.9" width="5.2" height="3.7" fill="url(#g_cyan)"/>
<text x="100.9" y="582.8" font-size="10.4" text-anchor="start" font-weight="bold" fill="#111">Patient 26</text>
<rect x="182" y="576.9" width="5.2" height="3.7" fill="url(#g_orange)"/>
<text x="189.5" y="582.8" font-size="10.4" text-anchor="start" font-weight="bold" fill="#111">Patient 21</text>
<rect x="308" y="60.8" width="74.4" height="18.4" fill="#909090" filter="url(#b0)"/>
<clipPath id="c1"><rect x="308" y="60.8" width="74.4" height="18.4"/></clipPath>
<g clip-path="url(#c1)">
<g opacity="0.85" filter="url(#b1)"><ellipse cx="320.5" cy="69.7" rx="9.4" ry="3.47" fill="#2c2c2c"/><rect x="313.48" y="66.85" width="14.04" height="5.7" rx="2.85" ry="2.85" fill="#2c2c2c"/></g>
<g opacity="0.81" filter="url(#b1)"><ellipse cx="367" cy="72.5" rx="10.3" ry="2.34" fill="#2c2c2c"/><rect x="357.8" y="69.9" width="18.4" height="5.2" rx="2.6" ry="2.6" fill="#2c2c2c"/></g>
</g>
<rect x="308" y="81.6" width="74.4" height="16.4" fill="#8c8c8c" filter="url(#b0)"/>
<clipPath id="c2"><rect x="308" y="81.6" width="74.4" height="16.4"/></clipPath>
<g clip-path="url(#c2)">
<g opacity="0.81" filter="url(#b1)"><ellipse cx="319.25" cy="89.5" rx="10.05" ry="2.52" fill="#2c2c2c"/><rect x="310.3" y="86.7" width="17.9" height="5.6" rx="2.8" ry="2.8" fill="#2c2c2c"/></g>
<g opacity="0.81" filter="url(#b1)"><ellipse cx="342.5" cy="90.5" rx="10.8" ry="2.52" fill="#2c2c2c"/><rect x="332.8" y="87.7" width="19.4" height="5.6" rx="2.8" ry="2.8" fill="#2c2c2c"/></g>
<g opacity="0.81" filter="url(#b1)"><ellipse cx="367.25" cy="90.8" rx="11.05" ry="2.52" fill="#2c2c2c"/><rect x="357.3" y="88" width="19.9" height="5.6" rx="2.8" ry="2.8" fill="#2c2c2c"/></g>
</g>
<rect x="308" y="103.5" width="74.4" height="19.1" fill="#8e8e8e" filter="url(#b0)"/>
<clipPath id="c3"><rect x="308" y="103.5" width="74.4" height="19.1"/></clipPath>
<g clip-path="url(#c3)">
<g opacity="0.84" filter="url(#b1)"><ellipse cx="321.25" cy="112.5" rx="12.65" ry="5.32" fill="#2c2c2c"/><rect x="311.69" y="108.13" width="19.11" height="8.74" rx="4.37" ry="4.37" fill="#2c2c2c"/></g>
<g opacity="0.79" filter="url(#b1)"><ellipse cx="345.75" cy="114.3" rx="10.55" ry="2.34" fill="#2c2c2c"/><rect x="336.3" y="111.7" width="18.9" height="5.2" rx="2.6" ry="2.6" fill="#2c2c2c"/></g>
<g opacity="0.77" filter="url(#b1)"><ellipse cx="371.5" cy="116.3" rx="8.8" ry="1.8" fill="#2c2c2c"/><rect x="363.8" y="114.3" width="15.4" height="4" rx="2" ry="2" fill="#2c2c2c"/></g>
</g>
<rect x="307.2" y="126.6" width="74.8" height="18.2" fill="#909090" filter="url(#b0)"/>
<clipPath id="c4"><rect x="307.2" y="126.6" width="74.8" height="18.2"/></clipPath>
<g clip-path="url(#c4)">
<g opacity="0.81" filter="url(#b1)"><ellipse cx="320.75" cy="134.5" rx="11.65" ry="4.14" fill="#2c2c2c"/><rect x="311.98" y="131.1" width="17.55" height="6.81" rx="3.4" ry="3.4" fill="#2c2c2c"/></g>
<g opacity="0.81" filter="url(#b1)"><ellipse cx="345.5" cy="135.8" rx="11.4" ry="3.47" fill="#2c2c2c"/><rect x="336.92" y="132.95" width="17.16" height="5.7" rx="2.85" ry="2.85" fill="#2c2c2c"/></g>
<g opacity="0.81" filter="url(#b1)"><ellipse cx="369.75" cy="136.8" rx="10.65" ry="4.14" fill="#2c2c2c"/><rect x="361.75" y="133.4" width="15.99" height="6.81" rx="3.4" ry="3.4" fill="#2c2c2c"/></g>
</g>
<rect x="397.2" y="60.5" width="79.6" height="18.3" fill="#929292" filter="url(#b0)"/>
<clipPath id="c5"><rect x="397.2" y="60.5" width="79.6" height="18.3"/></clipPath>
<g clip-path="url(#c5)">
<g opacity="0.85" filter="url(#b1)"><ellipse cx="408.95" cy="70.3" rx="11.05" ry="4.93" fill="#2c2c2c"/><rect x="400.64" y="66.25" width="16.61" height="8.1" rx="4.05" ry="4.05" fill="#2c2c2c"/></g>
<g opacity="0.61" filter="url(#b1)"><ellipse cx="464.2" cy="71.6" rx="9.9" ry="2.16" fill="#2c2c2c"/><rect x="455.4" y="69.2" width="17.6" height="4.8" rx="2.4" ry="2.4" fill="#2c2c2c"/></g>
</g>
<rect x="397.2" y="81.8" width="79.6" height="17.2" fill="#8e8e8e" filter="url(#b0)"/>
<clipPath id="c6"><rect x="397.2" y="81.8" width="79.6" height="17.2"/></clipPath>
<g clip-path="url(#c6)">
<g opacity="0.81" filter="url(#b1)"><ellipse cx="409.5" cy="91.5" rx="11.9" ry="3.58" fill="#2c2c2c"/><rect x="400.53" y="88.56" width="17.94" height="5.89" rx="2.94" ry="2.94" fill="#2c2c2c"/></g>
<g opacity="0.79" filter="url(#b1)"><ellipse cx="435.5" cy="90.8" rx="11.8" ry="2.43" fill="#2c2c2c"/><rect x="424.8" y="88.1" width="21.4" height="5.4" rx="2.7" ry="2.7" fill="#2c2c2c"/></g>
<g opacity="0.81" filter="url(#b1)"><ellipse cx="463" cy="90" rx="12.4" ry="4.03" fill="#2c2c2c"/><rect x="453.64" y="86.69" width="18.72" height="6.62" rx="3.31" ry="3.31" fill="#2c2c2c"/></g>
</g>
<rect x="397.2" y="103" width="79.6" height="18.5" fill="#909090" filter="url(#b0)"/>
<clipPath id="c7"><rect x="397.2" y="103" width="79.6" height="18.5"/></clipPath>
<g clip-path="url(#c7)">
<g opacity="0.72" filter="url(#b2)"><ellipse cx="409.5" cy="111.6" rx="13.9" ry="6.44" fill="#2c2c2c"/><rect x="398.97" y="106.31" width="21.06" height="10.58" rx="5.29" ry="5.29" fill="#2c2c2c"/></g>
<g opacity="0.77" filter="url(#b1)"><ellipse cx="436.5" cy="114.8" rx="12.3" ry="2.52" fill="#2c2c2c"/><rect x="425.3" y="112" width="22.4" height="5.6" rx="2.8" ry="2.8" fill="#2c2c2c"/></g>
<g opacity="0.77" filter="url(#b1)"><ellipse cx="463.5" cy="113.6" rx="11.4" ry="3.92" fill="#2c2c2c"/><rect x="454.92" y="110.38" width="17.16" height="6.44" rx="3.22" ry="3.22" fill="#2c2c2c"/></g>
</g>
<rect x="397.2" y="125.2" width="79.6" height="20.4" fill="#949494" filter="url(#b0)"/>
<clipPath id="c8"><rect x="397.2" y="125.2" width="79.6" height="20.4"/></clipPath>
<g clip-path="url(#c8)">
<g opacity="0.81" filter="url(#b1)"><ellipse cx="409.25" cy="135.5" rx="11.65" ry="3.58" fill="#2c2c2c"/><rect x="400.48" y="132.56" width="17.55" height="5.89" rx="2.94" ry="2.94" fill="#2c2c2c"/></g>
<g opacity="0.81" filter="url(#b1)"><ellipse cx="435" cy="135.8" rx="12.4" ry="3.58" fill="#2c2c2c"/><rect x="425.64" y="132.86" width="18.72" height="5.89" rx="2.94" ry="2.94" fill="#2c2c2c"/></g>
<g opacity="0.81" filter="url(#b1)"><ellipse cx="462.75" cy="136" rx="12.15" ry="3.7" fill="#2c2c2c"/><rect x="453.58" y="132.96" width="18.33" height="6.07" rx="3.04" ry="3.04" fill="#2c2c2c"/></g>
</g>
<text transform="translate(481.2 72.3) scale(1 1)" font-size="11.1" font-weight="bold" fill="#111">p53</text>
<text transform="translate(481.2 94.2) scale(1 1)" font-size="11.1" font-weight="bold" fill="#111">β-actin</text>
<text transform="translate(481.2 118.4) scale(1 1)" font-size="11.1" font-weight="bold" fill="#111">p21</text>
<text transform="translate(481.2 140.3) scale(1 1)" font-size="11.1" font-weight="bold" fill="#111">β-actin</text>
<path d="M310 30 V28.1 Q310 26.6 311.5 26.6 H382.3 Q383.8 26.6 383.8 28.1 V30" fill="none" stroke="#111" stroke-width="1.4"/>
<path d="M402 30 V28.1 Q402 26.6 403.5 26.6 H473.3 Q474.8 26.6 474.8 28.1 V30" fill="none" stroke="#111" stroke-width="1.4"/>
<text x="352" y="21.6" font-size="11.3" text-anchor="middle" font-weight="bold" fill="#111">37°C</text>
<text x="440.8" y="21.6" font-size="11.3" text-anchor="middle" font-weight="bold" fill="#111">32°C</text>
<text transform="translate(317 59.2) scale(0.9 1) rotate(-31)" font-size="10.3" font-weight="bold" fill="#111" stroke-width="0.35">+control</text>
<text transform="translate(341 58) scale(0.9 1) rotate(-31)" font-size="10.3" font-weight="bold" fill="#111" stroke-width="0.35">vector</text>
<text transform="translate(364.2 57.6) scale(0.93 1) rotate(-30.5)" font-size="10" font-weight="bold" fill="#111" stroke-width="0.35">p53<tspan font-size="6.8" dy="-3.8">val-135</tspan></text>
<text transform="translate(407.6 58.6) scale(0.9 1) rotate(-31)" font-size="10.3" font-weight="bold" fill="#111" stroke-width="0.35">+control</text>
<text transform="translate(434.8 58.2) scale(0.9 1) rotate(-31)" font-size="10.3" font-weight="bold" fill="#111" stroke-width="0.35">vector</text>
<text transform="translate(462 57.6) scale(0.95 1) rotate(-34)" font-size="10" font-weight="bold" fill="#111" stroke-width="0.35">p53<tspan font-size="6.8" dy="-3.8">val-135</tspan></text>
<rect x="320.3" y="424.4" width="153.7" height="18.2" fill="#959595" filter="url(#b0)"/>
<clipPath id="c9"><rect x="320.3" y="424.4" width="153.7" height="18.2"/></clipPath>
<g clip-path="url(#c9)">
<g opacity="0.32" filter="url(#b1)"><ellipse cx="330.5" cy="433.7" rx="7.8" ry="1.17" fill="#2c2c2c"/><rect x="323.8" y="432.4" width="13.4" height="2.6" rx="1.3" ry="1.3" fill="#2c2c2c"/></g>
<g opacity="0.79" filter="url(#b1)"><ellipse cx="358.9" cy="435" rx="10.9" ry="2.43" fill="#2c2c2c"/><rect x="349.1" y="432.3" width="19.6" height="5.4" rx="2.7" ry="2.7" fill="#2c2c2c"/></g>
</g>
<rect x="320.3" y="445.2" width="153.7" height="18.8" fill="#858585" filter="url(#b0)"/>
<clipPath id="c10"><rect x="320.3" y="445.2" width="153.7" height="18.8"/></clipPath>
<g clip-path="url(#c10)">
<g opacity="0.83" filter="url(#b1)"><ellipse cx="332.5" cy="453.8" rx="9.8" ry="2.07" fill="#2c2c2c"/><rect x="323.8" y="451.5" width="17.4" height="4.6" rx="2.3" ry="2.3" fill="#2c2c2c"/></g>
<g opacity="0.83" filter="url(#b1)"><ellipse cx="355.6" cy="454.5" rx="10.2" ry="2.07" fill="#2c2c2c"/><rect x="346.5" y="452.2" width="18.2" height="4.6" rx="2.3" ry="2.3" fill="#2c2c2c"/></g>
<g opacity="0.83" filter="url(#b1)"><ellipse cx="377.6" cy="455.6" rx="9.4" ry="2.07" fill="#2c2c2c"/><rect x="369.3" y="453.3" width="16.6" height="4.6" rx="2.3" ry="2.3" fill="#2c2c2c"/></g>
<g opacity="0.83" filter="url(#b1)"><ellipse cx="400.1" cy="456" rx="9.7" ry="2.07" fill="#2c2c2c"/><rect x="391.5" y="453.7" width="17.2" height="4.6" rx="2.3" ry="2.3" fill="#2c2c2c"/></g>
<g opacity="0.83" filter="url(#b1)"><ellipse cx="420.75" cy="456.2" rx="8.55" ry="2.07" fill="#2c2c2c"/><rect x="413.3" y="453.9" width="14.9" height="4.6" rx="2.3" ry="2.3" fill="#2c2c2c"/></g>
<g opacity="0.83" filter="url(#b1)"><ellipse cx="442.7" cy="457" rx="10" ry="2.07" fill="#2c2c2c"/><rect x="433.8" y="454.7" width="17.8" height="4.6" rx="2.3" ry="2.3" fill="#2c2c2c"/></g>
<g opacity="0.83" filter="url(#b1)"><ellipse cx="463.95" cy="457.8" rx="8.85" ry="2.07" fill="#2c2c2c"/><rect x="456.2" y="455.5" width="15.5" height="4.6" rx="2.3" ry="2.3" fill="#2c2c2c"/></g>
</g>
<rect x="320.3" y="469" width="153.7" height="19" fill="#8d8d8d" filter="url(#b0)"/>
<clipPath id="c11"><rect x="320.3" y="469" width="153.7" height="19"/></clipPath>
<g clip-path="url(#c11)">
<g opacity="0.68" filter="url(#b1)"><ellipse cx="332.25" cy="480" rx="9.05" ry="1.08" fill="#2c2c2c"/><rect x="324.3" y="478.8" width="15.9" height="2.4" rx="1.2" ry="1.2" fill="#2c2c2c"/></g>
<g opacity="0.2" filter="url(#b1)"><ellipse cx="354" cy="480.4" rx="7.3" ry="0.81" fill="#2c2c2c"/><rect x="347.8" y="479.5" width="12.4" height="1.8" rx="0.9" ry="0.9" fill="#2c2c2c"/></g>
</g>
<rect x="320.3" y="490.7" width="153.7" height="18.2" fill="#8a8a8a" filter="url(#b0)"/>
<clipPath id="c12"><rect x="320.3" y="490.7" width="153.7" height="18.2"/></clipPath>
<g clip-path="url(#c12)">
<g opacity="0.83" filter="url(#b1)"><ellipse cx="331.5" cy="500.2" rx="9.9" ry="3.47" fill="#2c2c2c"/><rect x="324.09" y="497.35" width="14.82" height="5.7" rx="2.85" ry="2.85" fill="#2c2c2c"/></g>
<g opacity="0.83" filter="url(#b1)"><ellipse cx="353" cy="499.8" rx="9.8" ry="2.52" fill="#2c2c2c"/><rect x="344.3" y="497" width="17.4" height="5.6" rx="2.8" ry="2.8" fill="#2c2c2c"/></g>
<g opacity="0.83" filter="url(#b1)"><ellipse cx="374.75" cy="499.2" rx="10.05" ry="2.61" fill="#2c2c2c"/><rect x="365.8" y="496.3" width="17.9" height="5.8" rx="2.9" ry="2.9" fill="#2c2c2c"/></g>
<g opacity="0.83" filter="url(#b1)"><ellipse cx="396.75" cy="498.8" rx="9.65" ry="3.58" fill="#2c2c2c"/><rect x="389.54" y="495.86" width="14.43" height="5.89" rx="2.94" ry="2.94" fill="#2c2c2c"/></g>
<g opacity="0.83" filter="url(#b1)"><ellipse cx="418.75" cy="499.2" rx="9.55" ry="2.43" fill="#2c2c2c"/><rect x="410.3" y="496.5" width="16.9" height="5.4" rx="2.7" ry="2.7" fill="#2c2c2c"/></g>
<g opacity="0.83" filter="url(#b1)"><ellipse cx="440.75" cy="498.8" rx="9.15" ry="3.47" fill="#2c2c2c"/><rect x="433.93" y="495.95" width="13.65" height="5.7" rx="2.85" ry="2.85" fill="#2c2c2c"/></g>
<g opacity="0.83" filter="url(#b1)"><ellipse cx="462" cy="499" rx="8.8" ry="1.98" fill="#2c2c2c"/><rect x="454.3" y="496.8" width="15.4" height="4.4" rx="2.2" ry="2.2" fill="#2c2c2c"/></g>
</g>
<text transform="translate(479.8 439.2) scale(1 1)" font-size="11.25" font-weight="bold" fill="#111">p53</text>
<text transform="translate(480 460) scale(1 1)" font-size="11.25" font-weight="bold" fill="#111">β-actin</text>
<text transform="translate(480.8 483.4) scale(1 1)" font-size="11.25" font-weight="bold" fill="#111">p21</text>
<text transform="translate(480 503.7) scale(1 1)" font-size="11.25" font-weight="bold" fill="#111">β-actin</text>
<text transform="translate(331 421.6) scale(0.92 1) rotate(-29.5)" font-size="11.9" font-weight="bold" fill="#111" stroke-width="0.4">Normal</text>
<text transform="translate(357 421.6) scale(0.92 1) rotate(-29.5)" font-size="11.9" font-weight="bold" fill="#111" stroke-width="0.4">TK6</text>
<text transform="translate(377.3 421.6) scale(0.92 1) rotate(-29.5)" font-size="11.9" font-weight="bold" fill="#111" stroke-width="0.4">Patient 1</text>
<text transform="translate(398 421.6) scale(0.92 1) rotate(-29.5)" font-size="11.9" font-weight="bold" fill="#111" stroke-width="0.4">Patient 5</text>
<text transform="translate(419 421.6) scale(0.92 1) rotate(-29.5)" font-size="11.9" font-weight="bold" fill="#111" stroke-width="0.4">Patient 7</text>
<text transform="translate(444.3 421.6) scale(0.92 1) rotate(-29.5)" font-size="11.9" font-weight="bold" fill="#111" stroke-width="0.4">Patient 10</text>
<text transform="translate(465 421.6) scale(0.92 1) rotate(-29.5)" font-size="11.9" font-weight="bold" fill="#111" stroke-width="0.4">Patient 13</text>
<rect x="321.6" y="580.6" width="153.3" height="20" fill="#939393" filter="url(#b0)"/>
<clipPath id="c13"><rect x="321.6" y="580.6" width="153.3" height="20"/></clipPath>
<g clip-path="url(#c13)">
<g opacity="0.77" filter="url(#b1)"><ellipse cx="332.35" cy="589.1" rx="9.65" ry="1.98" fill="#2c2c2c"/><rect x="323.8" y="586.9" width="17.1" height="4.4" rx="2.2" ry="2.2" fill="#2c2c2c"/></g>
<g opacity="0.18" filter="url(#b1)"><ellipse cx="353" cy="590.5" rx="5.3" ry="0.9" fill="#2c2c2c"/><rect x="348.8" y="589.5" width="8.4" height="2" rx="1" ry="1" fill="#2c2c2c"/></g>
<g opacity="0.81" filter="url(#b1)"><ellipse cx="377.35" cy="590.8" rx="8.65" ry="2.25" fill="#2c2c2c"/><rect x="369.8" y="588.3" width="15.1" height="5" rx="2.5" ry="2.5" fill="#2c2c2c"/></g>
<g opacity="0.77" filter="url(#b1)"><ellipse cx="398.3" cy="592.6" rx="7.9" ry="1.53" fill="#2c2c2c"/><rect x="391.5" y="590.9" width="13.6" height="3.4" rx="1.7" ry="1.7" fill="#2c2c2c"/></g>
<g opacity="0.81" filter="url(#b1)"><ellipse cx="418.75" cy="593" rx="9.05" ry="1.98" fill="#2c2c2c"/><rect x="410.8" y="590.8" width="15.9" height="4.4" rx="2.2" ry="2.2" fill="#2c2c2c"/></g>
<g opacity="0.79" filter="url(#b1)"><ellipse cx="441.75" cy="593.5" rx="8.55" ry="1.62" fill="#2c2c2c"/><rect x="434.3" y="591.7" width="14.9" height="3.6" rx="1.8" ry="1.8" fill="#2c2c2c"/></g>
<g opacity="0.81" filter="url(#b1)"><ellipse cx="464.75" cy="593" rx="8.55" ry="2.16" fill="#2c2c2c"/><rect x="457.3" y="590.6" width="14.9" height="4.8" rx="2.4" ry="2.4" fill="#2c2c2c"/></g>
<path d="M410.5 580.5 Q414.5 589 425 590" fill="none" stroke="#2a2a2a" stroke-width="2.3" opacity="0.8" filter="url(#b1)"/>
</g>
<rect x="321.6" y="603.9" width="153.3" height="21.6" fill="#8f8f8f" filter="url(#b0)"/>
<clipPath id="c14"><rect x="321.6" y="603.9" width="153.3" height="21.6"/></clipPath>
<g clip-path="url(#c14)">
<g opacity="0.83" filter="url(#b1)"><ellipse cx="331.75" cy="617.8" rx="9.05" ry="2.07" fill="#2c2c2c"/><rect x="323.8" y="615.5" width="15.9" height="4.6" rx="2.3" ry="2.3" fill="#2c2c2c"/></g>
<g opacity="0.83" filter="url(#b1)"><ellipse cx="353" cy="616.4" rx="9.8" ry="2.07" fill="#2c2c2c"/><rect x="344.3" y="614.1" width="17.4" height="4.6" rx="2.3" ry="2.3" fill="#2c2c2c"/></g>
<g opacity="0.83" filter="url(#b1)"><ellipse cx="374.75" cy="614.8" rx="9.05" ry="2.07" fill="#2c2c2c"/><rect x="366.8" y="612.5" width="15.9" height="4.6" rx="2.3" ry="2.3" fill="#2c2c2c"/></g>
<g opacity="0.83" filter="url(#b1)"><ellipse cx="396.1" cy="614.8" rx="9.7" ry="2.07" fill="#2c2c2c"/><rect x="387.5" y="612.5" width="17.2" height="4.6" rx="2.3" ry="2.3" fill="#2c2c2c"/></g>
<g opacity="0.83" filter="url(#b1)"><ellipse cx="417.75" cy="614.6" rx="9.55" ry="2.07" fill="#2c2c2c"/><rect x="409.3" y="612.3" width="16.9" height="4.6" rx="2.3" ry="2.3" fill="#2c2c2c"/></g>
<g opacity="0.83" filter="url(#b1)"><ellipse cx="440.5" cy="613.6" rx="9.8" ry="2.07" fill="#2c2c2c"/><rect x="431.8" y="611.3" width="17.4" height="4.6" rx="2.3" ry="2.3" fill="#2c2c2c"/></g>
<g opacity="0.83" filter="url(#b1)"><ellipse cx="463.25" cy="613" rx="9.55" ry="2.07" fill="#2c2c2c"/><rect x="454.8" y="610.7" width="16.9" height="4.6" rx="2.3" ry="2.3" fill="#2c2c2c"/></g>
</g>
<rect x="321.6" y="631.5" width="153.3" height="19.2" fill="#909090" filter="url(#b0)"/>
<clipPath id="c15"><rect x="321.6" y="631.5" width="153.3" height="19.2"/></clipPath>
<g clip-path="url(#c15)">
<g opacity="0.68" filter="url(#b1)"><ellipse cx="331.1" cy="642" rx="8.7" ry="1.17" fill="#2c2c2c"/><rect x="323.5" y="640.7" width="15.2" height="2.6" rx="1.3" ry="1.3" fill="#2c2c2c"/></g>
<g opacity="0.45" filter="url(#b1)"><ellipse cx="355" cy="642.6" rx="7.8" ry="0.99" fill="#2c2c2c"/><rect x="348.3" y="641.5" width="13.4" height="2.2" rx="1.1" ry="1.1" fill="#2c2c2c"/></g>
<g opacity="0.81" filter="url(#b1)"><ellipse cx="376.25" cy="641" rx="9.55" ry="2.43" fill="#2c2c2c"/><rect x="367.8" y="638.3" width="16.9" height="5.4" rx="2.7" ry="2.7" fill="#2c2c2c"/></g>
<g opacity="0.79" filter="url(#b1)"><ellipse cx="397.25" cy="641" rx="8.05" ry="1.8" fill="#2c2c2c"/><rect x="390.3" y="639" width="13.9" height="4" rx="2" ry="2" fill="#2c2c2c"/></g>
<g opacity="0.77" filter="url(#b1)"><ellipse cx="418.75" cy="640.4" rx="9.55" ry="1.62" fill="#2c2c2c"/><rect x="410.3" y="638.6" width="16.9" height="3.6" rx="1.8" ry="1.8" fill="#2c2c2c"/></g>
<g opacity="0.81" filter="url(#b1)"><ellipse cx="442.5" cy="639.4" rx="10.9" ry="3.92" fill="#2c2c2c"/><rect x="434.31" y="636.18" width="16.38" height="6.44" rx="3.22" ry="3.22" fill="#2c2c2c"/></g>
<g opacity="0.77" filter="url(#b1)"><ellipse cx="464.75" cy="639.6" rx="8.05" ry="1.53" fill="#2c2c2c"/><rect x="457.8" y="637.9" width="13.9" height="3.4" rx="1.7" ry="1.7" fill="#2c2c2c"/></g>
</g>
<rect x="321.6" y="654.4" width="153.3" height="20.6" fill="#929292" filter="url(#b0)"/>
<clipPath id="c16"><rect x="321.6" y="654.4" width="153.3" height="20.6"/></clipPath>
<g clip-path="url(#c16)">
<g opacity="0.83" filter="url(#b1)" transform="rotate(-3 333.75 668.6)"><ellipse cx="333.75" cy="668.6" rx="11.05" ry="1.98" fill="#2c2c2c"/><rect x="323.8" y="666.4" width="19.9" height="4.4" rx="2.2" ry="2.2" fill="#2c2c2c"/></g>
<g opacity="0.83" filter="url(#b1)" transform="rotate(-3 357 668)"><ellipse cx="357" cy="668" rx="11.8" ry="1.98" fill="#2c2c2c"/><rect x="346.3" y="665.8" width="21.4" height="4.4" rx="2.2" ry="2.2" fill="#2c2c2c"/></g>
<g opacity="0.83" filter="url(#b1)" transform="rotate(-3 377.75 666.4)"><ellipse cx="377.75" cy="666.4" rx="10.55" ry="1.98" fill="#2c2c2c"/><rect x="368.3" y="664.2" width="18.9" height="4.4" rx="2.2" ry="2.2" fill="#2c2c2c"/></g>
<g opacity="0.83" filter="url(#b1)" transform="rotate(-3 397.35 665)"><ellipse cx="397.35" cy="665" rx="10.95" ry="1.98" fill="#2c2c2c"/><rect x="387.5" y="662.8" width="19.7" height="4.4" rx="2.2" ry="2.2" fill="#2c2c2c"/></g>
<g opacity="0.83" filter="url(#b1)" transform="rotate(-3 418.75 664.6)"><ellipse cx="418.75" cy="664.6" rx="12.55" ry="1.98" fill="#2c2c2c"/><rect x="407.3" y="662.4" width="22.9" height="4.4" rx="2.2" ry="2.2" fill="#2c2c2c"/></g>
<g opacity="0.83" filter="url(#b1)" transform="rotate(-3 442.25 664.9)"><ellipse cx="442.25" cy="664.9" rx="10.05" ry="1.98" fill="#2c2c2c"/><rect x="433.3" y="662.7" width="17.9" height="4.4" rx="2.2" ry="2.2" fill="#2c2c2c"/></g>
<g opacity="0.83" filter="url(#b1)" transform="rotate(-3 463.65 663.2)"><ellipse cx="463.65" cy="663.2" rx="9.45" ry="1.98" fill="#2c2c2c"/><rect x="455.3" y="661" width="16.7" height="4.4" rx="2.2" ry="2.2" fill="#2c2c2c"/></g>
</g>
<text transform="translate(479.8 595.2) scale(0.94 1)" font-size="12" font-weight="bold" fill="#111">p53</text>
<text transform="translate(478.6 616.4) scale(0.94 1)" font-size="12" font-weight="bold" fill="#111">β-actin</text>
<text transform="translate(479.8 643.7) scale(0.94 1)" font-size="12" font-weight="bold" fill="#111">p21</text>
<text transform="translate(477.9 666.3) scale(0.94 1)" font-size="12" font-weight="bold" fill="#111">β-actin</text>
<text transform="translate(332.2 578.6) scale(0.935 1) rotate(-32.4)" font-size="11.4" font-weight="bold" fill="#111" stroke-width="0.45">TK6</text>
<text transform="translate(352.6 578.6) scale(0.935 1) rotate(-32.4)" font-size="11.4" font-weight="bold" fill="#111" stroke-width="0.45">Normal</text>
<text transform="translate(375 578.6) scale(0.935 1) rotate(-32.4)" font-size="11.4" font-weight="bold" fill="#111" stroke-width="0.45">Patient 22</text>
<text transform="translate(397.2 578.6) scale(0.935 1) rotate(-32.4)" font-size="11.4" font-weight="bold" fill="#111" stroke-width="0.45">Patient 23</text>
<text transform="translate(418 578.6) scale(0.935 1) rotate(-32.4)" font-size="11.4" font-weight="bold" fill="#111" stroke-width="0.45">Patient 24</text>
<text transform="translate(439.6 578.6) scale(0.935 1) rotate(-32.4)" font-size="11.4" font-weight="bold" fill="#111" stroke-width="0.45">Patient 26</text>
<text transform="translate(462.6 578.6) scale(0.935 1) rotate(-32.4)" font-size="11.4" font-weight="bold" fill="#111" stroke-width="0.45">Patient 21</text>
</g>
</svg></body></html>
